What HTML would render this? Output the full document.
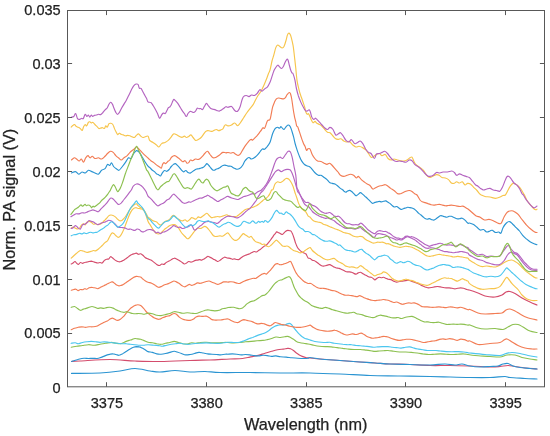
<!DOCTYPE html>
<html><head><meta charset="utf-8"><title>Norm. PA signal vs Wavelength</title>
<style>
html,body{margin:0;padding:0;background:#fff;}
body{width:550px;height:436px;overflow:hidden;}
svg{display:block;}
text{font-family:"Liberation Sans",sans-serif;fill:#222;stroke:#222;stroke-width:0.25px;}
.t{font-size:14.55px;}
.l{font-size:16.3px;}
.c{fill:none;stroke-linejoin:round;stroke-linecap:round;stroke-width:1.15;}
</style></head><body>
<svg width="550" height="436" viewBox="0 0 550 436">
<rect width="550" height="436" fill="#fff"/>
<g class="c">
<path stroke="#2a94d2" d="M71.5,373.4C76.2,373.3 91.9,373.4 100.0,373.0C108.1,372.6 114.2,371.8 120.0,371.0C125.8,370.2 130.0,368.5 135.0,368.5C140.0,368.5 145.8,370.4 150.0,371.0C154.2,371.6 155.8,372.1 160.0,372.0C164.2,371.9 170.0,370.5 175.0,370.5C180.0,370.5 185.0,371.8 190.0,372.0C195.0,372.2 200.0,371.4 205.0,371.5C210.0,371.6 212.5,372.3 220.0,372.5C227.5,372.7 240.0,372.4 250.0,372.5C260.0,372.6 270.0,372.9 280.0,373.0C290.0,373.1 300.0,372.8 310.0,373.0C320.0,373.2 330.0,373.6 340.0,374.0C350.0,374.4 360.0,375.2 370.0,375.5C380.0,375.8 390.0,375.8 400.0,376.0C410.0,376.2 421.7,376.3 430.0,376.5C438.3,376.7 443.3,376.8 450.0,377.0C456.7,377.2 463.3,377.4 470.0,377.5C476.7,377.6 484.2,377.7 490.0,377.5C495.8,377.3 501.7,376.5 505.0,376.5C508.3,376.5 506.7,377.2 510.0,377.5C513.3,377.8 520.5,378.2 525.0,378.5C529.5,378.8 535.0,378.9 537.0,379.0"/>
<path stroke="#d44c6c" d="M71.5,361.5C72.9,361.4 73.6,361.3 80.0,361.0C86.4,360.7 100.8,359.5 110.0,359.5C119.2,359.5 126.7,360.7 135.0,361.0C143.3,361.3 150.8,361.6 160.0,361.5C169.2,361.4 181.7,360.8 190.0,360.5C198.3,360.2 203.3,360.2 210.0,360.0C216.7,359.8 224.6,359.2 230.0,359.0C235.4,358.8 239.2,358.8 242.5,358.5C245.8,358.2 247.4,357.6 249.8,357.1C252.2,356.6 254.7,356.2 257.1,355.6C259.5,355.0 262.0,354.2 264.4,353.5C266.8,352.8 269.4,351.9 271.6,351.3C273.8,350.7 275.6,350.2 277.5,349.8C279.4,349.4 281.6,349.3 283.3,349.1C285.0,348.9 286.4,348.5 287.6,348.4C288.8,348.3 289.5,348.3 290.5,348.7C291.5,349.1 292.5,349.8 293.5,350.5C294.5,351.2 295.4,352.3 296.4,353.0C297.4,353.7 298.3,354.3 299.3,354.9C300.3,355.5 301.0,355.9 302.2,356.4C303.4,356.9 305.2,357.5 306.5,357.8C307.8,358.1 307.8,357.8 310.0,358.0C312.2,358.2 315.0,358.6 320.0,359.0C325.0,359.4 333.3,360.0 340.0,360.5C346.7,361.0 354.2,361.6 360.0,362.0C365.8,362.4 370.0,362.7 375.0,363.0C380.0,363.3 384.2,363.8 390.0,364.0C395.8,364.2 403.3,364.2 410.0,364.5C416.7,364.8 423.3,365.3 430.0,365.5C436.7,365.7 443.3,365.4 450.0,365.5C456.7,365.6 463.3,365.8 470.0,366.0C476.7,366.2 485.0,366.9 490.0,367.0C495.0,367.1 497.0,366.8 500.0,366.5C503.0,366.2 505.5,365.5 508.0,365.5C510.5,365.5 512.2,366.1 515.0,366.5C517.8,366.9 521.3,367.6 525.0,368.0C528.7,368.4 535.0,368.8 537.0,369.0"/>
<path stroke="#2a94d2" d="M71.5,361.5C72.8,361.1 77.5,359.5 79.6,359.0C81.7,358.5 82.5,358.4 84.0,358.3C85.5,358.2 87.0,358.5 88.4,358.5C89.9,358.5 91.2,358.3 92.7,358.3C94.2,358.3 95.9,358.6 97.1,358.5C98.3,358.4 98.9,358.2 100.0,357.8C101.1,357.4 102.4,356.9 103.6,356.4C104.8,355.9 106.2,355.3 107.3,354.9C108.4,354.5 109.2,354.4 110.2,354.2C111.2,354.0 112.1,353.8 113.1,353.9C114.1,353.9 115.0,354.3 116.0,354.5C117.0,354.7 117.9,355.4 118.9,355.3C119.9,355.2 120.8,354.7 121.8,354.2C122.8,353.7 123.7,353.0 124.7,352.4C125.7,351.8 126.6,351.1 127.6,350.5C128.6,349.9 129.5,349.2 130.5,348.7C131.5,348.1 132.5,347.5 133.5,347.2C134.5,346.9 135.4,346.7 136.4,346.6C137.4,346.6 138.3,346.6 139.3,346.9C140.3,347.1 141.2,347.6 142.2,348.1C143.2,348.6 144.1,349.2 145.1,349.8C146.1,350.4 146.8,351.2 148.0,351.6C149.2,352.0 151.0,352.0 152.4,352.4C153.8,352.8 155.2,353.6 156.7,353.9C158.1,354.2 159.6,354.3 161.1,354.2C162.6,354.1 164.1,353.8 165.5,353.5C166.9,353.2 168.4,352.8 169.8,352.4C171.2,352.0 173.0,351.4 174.2,351.3C175.4,351.2 175.9,351.6 177.1,352.0C178.3,352.4 180.1,353.0 181.5,353.5C182.9,354.0 184.4,354.7 185.8,354.9C187.2,355.1 188.8,354.7 190.2,354.5C191.6,354.3 193.1,353.9 194.5,353.5C195.9,353.1 197.4,352.5 198.9,352.4C200.4,352.3 201.9,352.8 203.3,353.0C204.8,353.2 206.2,353.7 207.6,353.9C209.0,354.1 210.5,354.1 212.0,354.2C213.5,354.3 215.0,354.4 216.4,354.5C217.8,354.6 219.2,354.9 220.7,354.9C222.1,354.8 223.9,354.3 225.1,354.2C226.3,354.1 226.8,354.2 228.0,354.2C229.2,354.1 231.0,353.9 232.4,353.9C233.8,353.9 235.2,354.0 236.7,354.2C238.1,354.4 239.6,354.8 241.1,354.9C242.6,354.9 244.1,354.5 245.5,354.5C246.9,354.5 248.4,354.7 249.8,354.9C251.2,355.1 252.8,355.4 254.2,355.6C255.6,355.8 257.1,355.9 258.5,355.9C259.9,355.8 261.4,355.4 262.9,355.3C264.4,355.2 265.9,355.4 267.3,355.6C268.8,355.8 270.2,356.3 271.6,356.4C273.1,356.4 274.5,355.8 276.0,355.9C277.5,356.0 278.7,356.6 280.4,356.8C282.1,357.0 284.3,356.9 286.2,357.1C288.1,357.3 290.1,357.6 292.0,357.8C293.9,358.0 295.9,358.2 297.8,358.3C299.7,358.4 301.9,358.5 303.6,358.5C305.3,358.5 306.9,358.5 308.0,358.3C309.1,358.1 308.0,357.4 310.0,357.5C312.0,357.6 315.0,358.5 320.0,359.0C325.0,359.5 333.3,360.0 340.0,360.5C346.7,361.0 354.2,361.6 360.0,362.0C365.8,362.4 370.0,362.7 375.0,363.0C380.0,363.3 384.2,363.8 390.0,364.0C395.8,364.2 403.3,364.3 410.0,364.5C416.7,364.7 424.2,365.1 430.0,365.0C435.8,364.9 440.8,364.0 445.0,364.0C449.2,364.0 452.2,365.0 455.0,365.0C457.8,365.0 459.5,363.8 462.0,364.0C464.5,364.2 467.0,365.5 470.0,366.0C473.0,366.5 476.7,366.9 480.0,367.0C483.3,367.1 487.0,366.7 490.0,366.5C493.0,366.3 495.8,366.4 498.0,366.0C500.2,365.6 501.3,364.4 503.0,364.0C504.7,363.6 506.3,363.2 508.0,363.5C509.7,363.8 511.0,365.3 513.0,366.0C515.0,366.7 517.2,367.1 520.0,367.5C522.8,367.9 527.2,368.2 530.0,368.5C532.8,368.8 535.8,368.9 537.0,369.0"/>
<path stroke="#8cc050" d="M71.2,347.2C72.1,347.0 74.8,346.5 76.7,346.2C78.6,345.9 80.5,345.8 82.5,345.5C84.5,345.2 86.5,344.8 88.4,344.7C90.4,344.6 92.3,345.3 94.2,345.2C96.1,345.1 98.1,344.6 100.0,344.3C101.9,344.0 103.9,343.6 105.8,343.3C107.7,343.0 109.9,342.3 111.6,342.3C113.3,342.3 114.5,343.1 116.0,343.3C117.5,343.5 119.2,343.8 120.4,343.7C121.6,343.6 122.3,343.2 123.3,342.8C124.3,342.4 125.2,341.8 126.2,341.4C127.2,341.0 128.1,340.7 129.1,340.4C130.1,340.1 131.0,339.9 132.0,339.6C133.0,339.3 133.9,338.6 134.9,338.5C135.9,338.4 136.8,338.8 137.8,338.9C138.8,339.0 139.7,339.1 140.7,339.3C141.7,339.6 142.4,339.9 143.6,340.4C144.8,340.9 146.5,341.9 148.0,342.3C149.5,342.7 151.0,342.6 152.4,342.8C153.8,343.0 155.2,343.4 156.7,343.7C158.1,343.9 159.6,344.4 161.1,344.3C162.6,344.2 164.1,343.6 165.5,343.3C166.9,343.0 168.4,342.8 169.8,342.5C171.2,342.2 172.8,341.4 174.2,341.4C175.6,341.4 177.1,342.1 178.5,342.5C179.9,342.9 181.4,343.4 182.9,343.7C184.4,343.9 185.9,344.1 187.3,344.0C188.8,343.9 190.2,342.9 191.6,342.8C193.0,342.7 194.5,343.4 196.0,343.3C197.5,343.2 198.7,342.7 200.4,342.5C202.1,342.3 204.3,342.2 206.2,342.3C208.1,342.4 210.1,342.7 212.0,342.8C213.9,342.9 215.9,342.9 217.8,342.8C219.7,342.8 221.9,342.6 223.6,342.5C225.3,342.4 226.3,342.4 228.0,342.5C229.7,342.6 231.9,342.8 233.8,342.8C235.7,342.8 237.7,342.7 239.6,342.5C241.5,342.3 243.6,342.0 245.5,341.8C247.4,341.6 249.4,341.6 251.3,341.4C253.2,341.2 255.2,341.0 257.1,340.8C259.0,340.6 261.2,340.6 262.9,340.4C264.6,340.2 265.9,339.9 267.3,339.6C268.8,339.3 270.2,338.9 271.6,338.5C273.1,338.1 274.5,337.2 276.0,337.0C277.5,336.8 278.9,337.6 280.4,337.5C281.8,337.4 283.5,336.9 284.7,336.7C285.9,336.5 286.6,336.3 287.6,336.4C288.6,336.5 289.5,337.0 290.5,337.5C291.5,338.0 292.5,338.7 293.5,339.3C294.5,339.9 295.4,340.9 296.4,341.4C297.4,341.9 298.1,342.2 299.3,342.5C300.5,342.8 302.2,343.1 303.6,343.3C305.1,343.6 306.3,343.7 308.0,344.0C309.7,344.3 311.9,344.8 313.8,345.2C315.7,345.6 317.7,346.0 319.6,346.2C321.6,346.4 323.6,346.5 325.5,346.6C327.4,346.7 329.4,346.7 331.3,346.9C333.2,347.1 335.2,347.4 337.1,347.6C339.0,347.9 341.0,348.1 342.9,348.4C344.8,348.6 346.8,348.9 348.7,349.1C350.6,349.3 352.6,349.4 354.5,349.5C356.4,349.6 358.4,349.4 360.4,349.5C362.3,349.6 364.3,349.9 366.2,350.1C368.1,350.4 370.6,350.8 372.0,351.0C373.4,351.2 373.7,351.3 374.9,351.3C376.1,351.3 377.9,351.1 379.3,351.0C380.8,350.9 382.2,350.8 383.6,350.7C385.1,350.6 386.3,350.4 388.0,350.5C389.7,350.6 391.9,351.1 393.8,351.3C395.7,351.6 397.7,351.9 399.6,352.0C401.6,352.1 403.6,351.9 405.5,352.0C407.4,352.1 409.4,352.2 411.3,352.4C413.2,352.6 415.2,352.8 417.1,353.0C419.0,353.2 421.0,353.6 422.9,353.9C424.8,354.1 426.8,354.4 428.7,354.5C430.6,354.6 432.6,354.3 434.5,354.2C436.4,354.1 438.4,353.9 440.4,353.9C442.3,353.9 444.3,354.1 446.2,354.2C448.1,354.3 450.1,354.5 452.0,354.5C453.9,354.5 455.9,354.3 457.8,354.2C459.7,354.1 461.9,353.8 463.6,353.9C465.3,353.9 466.1,354.2 468.0,354.5C469.9,354.8 471.3,355.2 475.0,355.5C478.7,355.8 485.8,356.2 490.0,356.5C494.2,356.8 497.2,357.2 500.0,357.0C502.8,356.8 504.5,355.3 507.0,355.0C509.5,354.7 512.5,354.6 515.0,355.0C517.5,355.4 519.5,356.8 522.0,357.5C524.5,358.2 527.5,358.6 530.0,359.0C532.5,359.4 535.8,359.8 537.0,360.0"/>
<path stroke="#4cc6ef" d="M71.2,343.3C71.9,343.2 74.1,342.7 75.3,342.8C76.5,342.9 77.0,343.8 78.2,343.7C79.4,343.6 81.0,342.8 82.5,342.5C84.0,342.2 85.4,342.0 86.9,341.8C88.4,341.6 89.8,341.4 91.3,341.4C92.8,341.4 94.1,341.6 95.6,341.8C97.0,342.0 98.5,342.3 100.0,342.3C101.5,342.3 103.0,341.8 104.4,341.8C105.9,341.8 107.2,342.1 108.7,342.3C110.2,342.5 111.6,342.6 113.1,342.8C114.6,343.0 116.0,343.2 117.5,343.3C119.0,343.4 120.3,343.6 121.8,343.7C123.2,343.8 124.8,343.6 126.2,343.7C127.7,343.8 129.1,344.1 130.5,344.3C131.9,344.5 133.4,344.6 134.9,344.7C136.4,344.8 137.9,345.1 139.3,345.2C140.8,345.3 142.2,345.3 143.6,345.2C145.0,345.1 146.3,344.7 148.0,344.7C149.7,344.7 151.9,345.0 153.8,345.2C155.7,345.4 158.2,345.5 159.6,345.7C161.0,345.9 161.3,346.3 162.5,346.2C163.7,346.1 165.4,345.5 166.9,345.2C168.4,344.9 169.9,344.6 171.3,344.3C172.8,344.1 174.2,343.9 175.6,343.7C177.0,343.5 178.5,343.2 180.0,343.3C181.5,343.4 183.0,343.8 184.4,344.0C185.8,344.2 187.2,344.4 188.7,344.3C190.1,344.2 191.4,343.9 193.1,343.7C194.8,343.5 196.7,343.4 198.9,343.3C201.1,343.2 203.8,342.8 206.2,342.8C208.6,342.8 211.1,343.2 213.5,343.3C215.9,343.4 218.3,343.5 220.7,343.3C223.1,343.1 225.8,342.4 228.0,342.3C230.2,342.2 231.9,342.5 233.8,342.5C235.7,342.5 237.9,342.6 239.6,342.3C241.3,342.0 242.5,341.4 244.0,340.8C245.5,340.2 247.0,339.4 248.4,338.9C249.8,338.3 251.2,338.1 252.7,337.5C254.1,336.9 255.6,336.2 257.1,335.6C258.6,335.0 260.1,334.6 261.5,334.1C262.9,333.6 264.6,333.0 265.8,332.4C267.0,331.8 267.7,331.3 268.7,330.6C269.7,329.9 270.6,329.0 271.6,328.3C272.6,327.6 273.5,327.0 274.5,326.5C275.5,326.0 276.5,325.7 277.5,325.4C278.5,325.1 279.4,324.9 280.4,324.8C281.4,324.8 282.3,325.2 283.3,325.1C284.3,325.0 285.2,324.7 286.2,324.4C287.2,324.1 288.2,323.3 289.1,323.3C290.0,323.3 290.6,323.7 291.3,324.4C292.0,325.1 292.6,326.2 293.5,327.3C294.4,328.4 295.4,329.8 296.4,330.9C297.4,332.0 298.3,333.1 299.3,334.1C300.3,335.1 301.2,336.0 302.2,336.7C303.2,337.4 304.1,338.1 305.1,338.5C306.1,338.9 306.8,338.9 308.0,339.3C309.2,339.7 310.9,340.4 312.4,340.8C313.8,341.2 315.2,341.6 316.7,341.8C318.1,342.1 319.6,342.2 321.1,342.3C322.6,342.4 324.1,342.5 325.5,342.5C326.9,342.5 328.4,342.2 329.8,342.3C331.2,342.4 332.8,343.1 334.2,343.3C335.6,343.5 337.1,343.5 338.5,343.7C339.9,343.9 341.4,344.1 342.9,344.3C344.4,344.5 345.9,344.6 347.3,344.7C348.8,344.8 350.2,344.6 351.6,344.7C353.1,344.8 354.5,345.3 356.0,345.5C357.5,345.7 358.9,345.6 360.4,345.7C361.8,345.8 363.2,346.0 364.7,346.2C366.1,346.4 367.6,346.4 369.1,346.6C370.6,346.8 372.1,347.1 373.5,347.2C374.9,347.2 376.4,347.0 377.8,346.9C379.2,346.8 380.5,346.7 382.2,346.6C383.9,346.6 386.3,346.5 388.0,346.6C389.7,346.7 390.9,347.0 392.4,347.2C393.8,347.4 395.2,347.5 396.7,347.6C398.1,347.8 399.6,348.2 401.1,348.1C402.6,348.0 404.1,347.4 405.5,347.2C406.9,347.0 408.4,346.8 409.8,346.9C411.2,347.0 412.8,347.7 414.2,348.1C415.6,348.5 417.1,348.8 418.5,349.1C419.9,349.4 421.4,349.6 422.9,349.8C424.4,350.0 425.9,350.4 427.3,350.5C428.8,350.6 430.2,350.5 431.6,350.5C433.1,350.5 434.5,350.4 436.0,350.5C437.5,350.6 438.7,350.8 440.4,351.0C442.1,351.2 444.3,351.5 446.2,351.6C448.1,351.7 450.1,351.7 452.0,351.7C453.9,351.7 455.9,351.6 457.8,351.6C459.7,351.7 461.9,351.8 463.6,352.0C465.3,352.2 466.9,352.5 468.0,352.7C469.1,352.9 467.2,352.7 470.0,353.0C472.8,353.3 480.0,354.1 485.0,354.5C490.0,354.9 496.5,355.7 500.0,355.5C503.5,355.3 504.0,354.0 506.0,353.5C508.0,353.0 509.7,352.5 512.0,352.5C514.3,352.5 517.3,353.0 520.0,353.5C522.7,354.0 525.2,354.9 528.0,355.5C530.8,356.1 535.5,356.8 537.0,357.0"/>
<path stroke="#f27c54" d="M71.2,329.7C71.8,329.5 73.3,328.7 74.5,328.3C75.7,327.9 77.0,327.6 78.2,327.3C79.4,327.1 80.6,326.8 81.8,326.8C83.0,326.8 84.3,327.3 85.5,327.3C86.7,327.3 87.9,326.9 89.1,326.8C90.3,326.7 91.5,326.9 92.7,326.8C93.9,326.7 95.2,326.7 96.4,326.3C97.6,325.9 98.8,325.0 100.0,324.4C101.2,323.8 102.4,323.1 103.6,322.5C104.8,321.9 106.2,321.6 107.3,321.0C108.4,320.4 109.3,319.5 110.2,319.0C111.1,318.5 111.7,318.1 112.4,318.1C113.1,318.1 113.7,318.6 114.5,319.0C115.3,319.4 116.5,320.3 117.5,320.4C118.5,320.4 119.4,319.9 120.4,319.3C121.4,318.7 122.3,317.7 123.3,316.7C124.3,315.7 125.2,314.3 126.2,313.2C127.2,312.1 128.1,310.8 129.1,309.8C130.1,308.8 131.0,308.0 132.0,307.3C133.0,306.6 133.9,305.9 134.9,305.5C135.9,305.1 136.8,304.7 137.8,304.7C138.8,304.7 139.7,304.9 140.7,305.5C141.7,306.1 142.6,307.3 143.6,308.4C144.6,309.5 145.8,311.2 146.5,312.0C147.2,312.8 147.3,312.6 148.0,313.2C148.7,313.8 149.8,314.8 150.9,315.6C152.0,316.4 153.2,317.5 154.5,318.1C155.8,318.7 157.6,319.4 158.9,319.3C160.2,319.2 161.3,318.3 162.5,317.8C163.7,317.3 165.0,316.8 166.2,316.4C167.4,316.0 168.8,316.0 169.8,315.6C170.8,315.2 171.3,314.6 172.0,314.2C172.7,313.8 173.5,313.5 174.2,313.5C174.9,313.5 175.6,313.6 176.4,314.2C177.2,314.8 178.2,316.2 179.3,317.1C180.4,318.0 181.7,318.8 182.9,319.3C184.1,319.8 185.3,319.9 186.5,320.1C187.7,320.3 189.1,320.5 190.2,320.4C191.3,320.3 192.1,319.9 193.1,319.3C194.1,318.8 195.0,317.6 196.0,317.1C197.0,316.6 197.8,316.2 198.9,316.1C200.0,316.0 201.3,316.4 202.5,316.4C203.7,316.4 205.1,315.9 206.2,316.1C207.3,316.3 208.1,316.9 209.1,317.5C210.1,318.1 211.0,319.2 212.0,319.6C213.0,320.0 213.9,320.0 214.9,320.1C215.9,320.2 216.8,320.0 217.8,320.0C218.8,320.0 219.6,320.1 220.7,320.0C221.8,319.9 223.2,319.5 224.4,319.3C225.6,319.1 226.8,318.8 228.0,319.0C229.2,319.2 230.4,320.2 231.6,320.7C232.8,321.2 234.2,321.9 235.3,322.2C236.4,322.5 237.2,322.8 238.2,322.5C239.2,322.2 240.1,321.2 241.1,320.7C242.1,320.2 243.0,319.7 244.0,319.6C245.0,319.6 245.9,320.2 246.9,320.4C247.9,320.6 248.8,320.8 249.8,321.0C250.8,321.2 251.7,321.5 252.7,321.9C253.7,322.3 254.6,323.0 255.6,323.3C256.6,323.6 257.5,323.9 258.5,323.9C259.5,323.9 260.5,323.3 261.5,323.3C262.5,323.3 263.4,323.6 264.4,323.9C265.4,324.2 266.3,324.8 267.3,325.1C268.3,325.4 269.2,326.0 270.2,325.8C271.2,325.6 272.2,324.4 273.1,323.9C274.0,323.3 274.5,322.6 275.3,322.5C276.1,322.4 277.2,323.0 278.2,323.3C279.2,323.6 280.1,324.1 281.1,324.4C282.1,324.6 283.0,324.6 284.0,324.8C285.0,325.0 285.9,325.1 286.9,325.4C287.9,325.6 288.8,326.1 289.8,326.3C290.8,326.5 291.7,326.6 292.7,326.8C293.7,327.0 294.6,327.2 295.6,327.3C296.6,327.4 297.5,327.3 298.5,327.3C299.5,327.3 300.5,327.4 301.5,327.3C302.5,327.2 303.3,327.1 304.4,326.8C305.5,326.6 307.0,326.1 308.0,325.8C309.0,325.5 309.3,324.9 310.2,325.1C311.1,325.4 312.0,326.6 313.1,327.3C314.2,328.0 315.5,328.7 316.7,329.2C317.9,329.7 319.2,329.9 320.4,330.2C321.6,330.5 322.8,330.7 324.0,330.9C325.2,331.1 326.4,331.2 327.6,331.2C328.8,331.2 330.1,331.1 331.3,330.9C332.5,330.7 333.8,330.1 334.9,330.2C336.0,330.2 336.8,330.8 337.8,331.2C338.8,331.6 339.7,332.2 340.7,332.7C341.7,333.2 342.6,333.7 343.6,334.1C344.6,334.5 345.5,334.9 346.5,335.0C347.5,335.1 348.5,334.7 349.5,334.5C350.5,334.3 351.4,333.8 352.4,333.8C353.4,333.8 354.3,334.4 355.3,334.5C356.3,334.6 357.2,334.3 358.2,334.1C359.2,333.9 360.1,333.0 361.1,333.1C362.1,333.2 363.0,333.9 364.0,334.5C365.0,335.1 365.9,335.9 366.9,336.4C367.9,336.9 368.8,337.2 369.8,337.5C370.8,337.8 371.7,338.1 372.7,338.2C373.7,338.3 374.6,338.0 375.6,337.9C376.6,337.8 377.5,337.7 378.5,337.5C379.5,337.3 380.5,336.9 381.5,336.7C382.5,336.5 383.3,336.3 384.4,336.4C385.5,336.4 386.8,336.6 388.0,337.0C389.2,337.4 390.4,338.1 391.6,338.5C392.8,338.9 394.1,339.3 395.3,339.6C396.5,339.9 397.7,340.3 398.9,340.4C400.1,340.4 401.3,340.1 402.5,339.9C403.7,339.7 405.0,339.4 406.2,339.3C407.4,339.2 408.6,339.2 409.8,339.3C411.0,339.4 412.3,339.6 413.5,339.9C414.7,340.1 415.9,340.5 417.1,340.8C418.3,341.1 419.5,341.5 420.7,341.8C421.9,342.1 423.2,342.5 424.4,342.5C425.6,342.5 426.8,342.0 428.0,341.8C429.2,341.6 430.4,341.3 431.6,341.1C432.8,340.9 434.1,341.1 435.3,340.8C436.5,340.6 437.7,339.9 438.9,339.6C440.1,339.3 441.3,338.9 442.5,338.9C443.7,338.8 445.0,339.4 446.2,339.3C447.4,339.2 448.6,338.6 449.8,338.6C451.0,338.6 452.3,339.0 453.5,339.3C454.7,339.6 455.9,340.4 457.1,340.4C458.3,340.4 459.5,339.2 460.7,339.1C461.9,339.0 463.2,339.3 464.4,339.6C465.6,339.9 467.1,340.9 468.0,341.1C468.9,341.3 468.3,340.4 470.0,341.0C471.7,341.6 474.7,344.1 478.0,344.5C481.3,344.9 486.3,343.8 490.0,343.5C493.7,343.2 497.7,343.1 500.0,342.5C502.3,341.9 502.8,340.6 504.0,340.0C505.2,339.4 505.7,338.7 507.0,339.0C508.3,339.3 510.2,340.9 512.0,342.0C513.8,343.1 515.8,344.5 518.0,345.5C520.2,346.5 522.7,347.4 525.0,348.0C527.3,348.6 530.0,348.8 532.0,349.0C534.0,349.2 536.2,349.0 537.0,349.0"/>
<path stroke="#8cc050" d="M71.2,307.3C71.8,307.2 73.5,306.3 74.5,306.5C75.5,306.7 76.5,307.8 77.5,308.4C78.5,309.0 79.4,310.2 80.4,310.3C81.4,310.4 82.3,309.4 83.3,309.1C84.3,308.8 85.2,308.7 86.2,308.4C87.2,308.1 88.1,307.6 89.1,307.3C90.1,307.0 91.0,306.5 92.0,306.5C93.0,306.5 93.9,307.0 94.9,307.3C95.9,307.6 96.8,308.3 97.8,308.4C98.8,308.5 99.7,307.9 100.7,307.9C101.7,307.9 102.6,308.4 103.6,308.4C104.6,308.3 105.5,307.8 106.5,307.6C107.5,307.4 108.5,307.2 109.5,307.3C110.5,307.4 111.4,307.5 112.4,307.9C113.4,308.2 114.3,308.9 115.3,309.4C116.3,309.9 117.2,310.4 118.2,310.8C119.2,311.2 120.1,311.4 121.1,311.7C122.1,311.9 123.0,312.3 124.0,312.3C125.0,312.3 125.9,311.6 126.9,311.7C127.9,311.8 128.8,312.4 129.8,312.7C130.8,313.0 131.7,313.3 132.7,313.5C133.7,313.7 134.6,313.7 135.6,313.7C136.6,313.7 137.5,313.5 138.5,313.5C139.5,313.5 140.5,313.6 141.5,313.7C142.5,313.8 143.3,314.3 144.4,314.2C145.5,314.1 146.7,313.3 148.0,313.2C149.3,313.1 151.0,313.4 152.4,313.7C153.8,314.0 155.2,314.9 156.7,315.2C158.1,315.5 159.6,315.7 161.1,315.6C162.6,315.5 164.1,315.0 165.5,314.6C166.9,314.2 168.4,314.0 169.8,313.5C171.2,313.0 172.8,311.9 174.2,311.7C175.6,311.5 177.1,312.1 178.5,312.3C179.9,312.6 181.4,313.1 182.9,313.2C184.4,313.3 185.9,312.7 187.3,312.7C188.8,312.7 190.2,313.1 191.6,313.2C193.0,313.3 194.5,313.7 196.0,313.5C197.5,313.3 199.0,312.5 200.4,312.0C201.8,311.5 203.5,310.9 204.7,310.5C205.9,310.1 206.6,309.8 207.6,309.8C208.6,309.8 209.3,310.1 210.5,310.3C211.7,310.5 213.4,310.8 214.9,310.8C216.4,310.8 218.1,310.6 219.3,310.3C220.5,310.0 221.2,309.1 222.2,308.8C223.2,308.5 224.1,308.6 225.1,308.4C226.1,308.2 227.0,307.7 228.0,307.5C229.0,307.3 229.9,307.3 230.9,307.3C231.9,307.3 232.8,307.2 233.8,307.3C234.8,307.4 235.7,307.9 236.7,308.1C237.7,308.3 238.6,308.7 239.6,308.7C240.6,308.7 241.7,308.4 242.5,308.0C243.3,307.6 244.0,306.8 244.7,306.1C245.4,305.4 246.2,304.5 246.9,303.9C247.6,303.3 248.4,302.9 249.1,302.5C249.8,302.1 250.6,301.6 251.3,301.4C252.0,301.1 252.8,301.2 253.5,301.0C254.2,300.8 254.9,300.4 255.6,300.0C256.3,299.6 257.1,299.0 257.8,298.5C258.5,298.0 259.3,297.6 260.0,297.1C260.7,296.6 261.5,295.9 262.2,295.6C262.9,295.3 263.7,295.5 264.4,295.2C265.1,294.9 265.8,294.3 266.5,293.7C267.2,293.1 268.0,292.4 268.7,291.5C269.4,290.6 270.2,289.6 270.9,288.6C271.6,287.6 272.4,286.6 273.1,285.7C273.8,284.8 274.6,283.8 275.3,283.1C276.0,282.4 276.8,281.9 277.5,281.4C278.2,280.9 278.9,280.4 279.6,280.2C280.3,279.9 281.1,280.1 281.8,279.9C282.5,279.6 283.3,279.1 284.0,278.7C284.7,278.3 285.5,278.0 286.2,277.7C286.9,277.4 287.8,276.8 288.4,276.7C289.0,276.6 289.3,276.6 289.8,277.0C290.3,277.4 290.8,278.2 291.3,279.2C291.8,280.2 292.2,281.8 292.7,283.1C293.2,284.4 293.6,285.8 294.2,287.2C294.8,288.6 295.7,290.2 296.4,291.5C297.1,292.8 297.8,294.2 298.5,295.2C299.2,296.2 300.0,297.0 300.7,297.7C301.4,298.4 302.2,298.9 302.9,299.5C303.6,300.1 304.2,300.5 305.1,301.0C306.0,301.5 306.9,301.8 308.0,302.5C309.1,303.2 310.4,304.8 311.6,305.5C312.8,306.2 314.1,306.5 315.3,306.9C316.5,307.3 317.7,307.6 318.9,307.9C320.1,308.1 321.4,308.5 322.5,308.4C323.6,308.3 324.4,307.3 325.5,307.3C326.6,307.3 327.9,308.0 329.1,308.4C330.3,308.8 331.5,309.4 332.7,309.8C333.9,310.2 335.2,310.5 336.4,310.8C337.6,311.1 338.8,311.4 340.0,311.7C341.2,312.0 342.4,312.4 343.6,312.7C344.8,312.9 346.1,313.2 347.3,313.2C348.5,313.2 349.8,312.8 350.9,312.7C352.0,312.6 352.8,312.1 353.8,312.3C354.8,312.5 355.7,313.4 356.7,313.7C357.7,314.0 358.6,314.0 359.6,314.2C360.6,314.4 361.5,314.6 362.5,314.9C363.5,315.2 364.5,315.8 365.5,316.1C366.5,316.4 367.4,316.5 368.4,316.7C369.4,316.9 370.3,317.4 371.3,317.5C372.3,317.6 373.2,317.7 374.2,317.5C375.2,317.3 376.1,316.5 377.1,316.1C378.1,315.7 379.0,315.3 380.0,315.2C381.0,315.1 381.9,315.5 382.9,315.6C383.9,315.8 384.9,315.9 385.8,316.1C386.7,316.3 387.0,316.4 388.0,316.7C389.0,317.0 390.4,317.6 391.6,317.8C392.8,318.0 394.2,317.9 395.3,317.8C396.4,317.8 397.2,317.4 398.2,317.5C399.2,317.6 400.0,318.5 401.1,318.5C402.2,318.5 403.5,317.8 404.7,317.5C405.9,317.2 407.2,316.9 408.4,316.7C409.6,316.5 410.9,316.3 412.0,316.4C413.1,316.5 413.9,317.1 414.9,317.5C415.9,317.9 416.8,318.5 417.8,319.0C418.8,319.5 419.6,319.9 420.7,320.4C421.8,320.9 423.2,321.6 424.4,321.9C425.6,322.1 426.8,321.8 428.0,321.9C429.2,322.0 430.4,322.4 431.6,322.5C432.8,322.6 434.1,322.6 435.3,322.5C436.5,322.4 437.7,322.1 438.9,322.2C440.1,322.3 441.3,322.9 442.5,323.3C443.7,323.7 445.0,324.2 446.2,324.4C447.4,324.6 448.6,324.4 449.8,324.4C451.0,324.3 452.3,324.1 453.5,324.1C454.7,324.1 455.9,324.4 457.1,324.4C458.3,324.4 459.5,324.1 460.7,324.1C461.9,324.1 463.2,324.2 464.4,324.4C465.6,324.6 467.1,325.0 468.0,325.1C468.9,325.2 468.3,324.5 470.0,325.0C471.7,325.5 475.5,327.3 478.0,328.0C480.5,328.7 482.2,328.9 485.0,329.0C487.8,329.1 492.0,328.4 495.0,328.5C498.0,328.6 500.8,329.8 503.0,329.5C505.2,329.2 506.3,327.8 508.0,327.0C509.7,326.2 511.3,324.9 513.0,324.5C514.7,324.1 516.3,324.1 518.0,324.5C519.7,324.9 521.0,325.9 523.0,327.0C525.0,328.1 527.7,330.1 530.0,331.0C532.3,331.9 535.8,332.2 537.0,332.5"/>
<path stroke="#f27c54" d="M71.2,290.2C71.6,290.1 73.0,289.7 73.8,289.5C74.6,289.3 75.3,289.0 76.0,289.2C76.7,289.4 77.5,290.6 78.2,290.6C78.9,290.7 79.7,289.6 80.4,289.5C81.1,289.4 81.8,289.8 82.5,289.7C83.2,289.6 84.0,288.8 84.7,288.7C85.4,288.6 86.2,289.4 86.9,289.2C87.6,289.0 88.4,288.0 89.1,287.7C89.8,287.4 90.6,287.3 91.3,287.3C92.0,287.3 92.8,287.6 93.5,287.7C94.2,287.8 94.9,287.8 95.6,288.0C96.3,288.2 97.1,288.8 97.8,288.7C98.5,288.6 99.3,288.1 100.0,287.7C100.7,287.3 101.5,286.9 102.2,286.5C102.9,286.1 103.7,285.8 104.4,285.4C105.1,285.0 105.8,284.8 106.5,284.4C107.2,284.0 108.0,283.7 108.7,283.3C109.4,282.9 110.3,282.4 110.9,282.2C111.5,282.0 111.8,281.7 112.4,281.9C113.0,282.1 113.8,282.8 114.5,283.3C115.2,283.8 116.0,284.7 116.7,285.1C117.4,285.5 118.2,285.8 118.9,285.8C119.6,285.9 120.4,285.6 121.1,285.4C121.8,285.2 122.6,284.8 123.3,284.4C124.0,284.0 124.8,283.4 125.5,282.9C126.2,282.4 126.9,282.0 127.6,281.5C128.3,281.0 129.1,280.5 129.8,280.0C130.5,279.5 131.3,279.0 132.0,278.5C132.7,278.0 133.5,277.5 134.2,277.1C134.9,276.8 135.7,276.5 136.4,276.4C137.1,276.3 137.8,276.6 138.5,276.7C139.2,276.8 140.0,276.7 140.7,277.1C141.4,277.5 142.2,278.4 142.9,279.0C143.6,279.6 144.2,280.2 145.1,280.7C145.9,281.2 146.9,281.8 148.0,282.2C149.1,282.6 150.4,282.8 151.6,283.3C152.8,283.8 154.2,284.7 155.3,285.4C156.5,286.1 157.4,287.1 158.5,287.3C159.6,287.5 160.8,286.7 161.8,286.3C162.8,285.9 163.6,285.2 164.7,284.8C165.8,284.4 167.3,284.0 168.4,283.6C169.5,283.2 170.4,282.6 171.3,282.2C172.2,281.8 173.1,281.1 173.9,281.0C174.8,280.9 175.5,281.5 176.4,281.9C177.3,282.3 178.3,283.0 179.3,283.6C180.3,284.2 181.3,285.3 182.2,285.8C183.1,286.3 183.8,286.9 184.7,286.8C185.5,286.7 186.5,285.8 187.3,285.4C188.1,285.0 188.8,284.4 189.5,284.4C190.2,284.4 190.8,285.4 191.6,285.4C192.4,285.4 193.5,284.8 194.5,284.4C195.5,284.0 196.5,283.1 197.5,282.9C198.5,282.7 199.4,283.4 200.4,283.3C201.4,283.2 202.3,282.8 203.3,282.5C204.3,282.2 205.2,281.8 206.2,281.5C207.2,281.2 208.1,280.9 209.1,281.0C210.1,281.1 211.0,281.8 212.0,282.2C213.0,282.6 213.9,282.9 214.9,283.3C215.9,283.7 216.8,284.4 217.8,284.4C218.8,284.4 219.7,283.7 220.7,283.3C221.7,282.9 222.6,282.1 223.6,281.9C224.6,281.7 225.8,281.9 226.5,281.9C227.2,281.9 227.3,282.1 228.0,282.1C228.7,282.1 229.9,281.7 230.9,281.7C231.9,281.7 232.8,281.9 233.8,282.1C234.8,282.3 235.7,282.9 236.7,283.1C237.7,283.3 238.6,283.7 239.6,283.5C240.6,283.3 241.5,282.6 242.5,282.1C243.5,281.6 244.5,281.0 245.5,280.6C246.5,280.2 247.4,279.9 248.4,279.6C249.4,279.3 250.5,278.9 251.3,278.7C252.2,278.5 252.8,278.2 253.5,278.2C254.2,278.2 254.9,278.7 255.6,278.5C256.3,278.3 257.1,277.5 257.8,277.0C258.5,276.5 259.3,276.0 260.0,275.5C260.7,275.0 261.5,274.5 262.2,274.1C262.9,273.8 263.7,273.4 264.4,273.4C265.1,273.4 265.8,274.4 266.5,274.1C267.2,273.9 268.0,272.6 268.7,271.9C269.4,271.2 270.2,270.5 270.9,269.7C271.6,268.9 272.4,267.7 273.1,266.8C273.8,265.9 274.6,264.7 275.3,264.2C276.0,263.7 276.8,263.5 277.5,263.6C278.2,263.7 278.9,264.4 279.6,264.6C280.3,264.8 281.1,264.7 281.8,264.6C282.5,264.5 283.3,264.1 284.0,263.9C284.7,263.7 285.5,263.5 286.2,263.2C286.9,262.9 287.7,262.5 288.4,262.2C289.1,261.9 289.8,261.1 290.3,261.3C290.9,261.5 291.2,262.2 291.7,263.2C292.2,264.2 292.9,266.1 293.5,267.5C294.1,268.9 294.9,270.6 295.6,271.9C296.3,273.2 297.1,274.3 297.8,275.3C298.5,276.3 299.3,276.9 300.0,277.7C300.7,278.5 301.5,279.2 302.2,279.9C302.9,280.6 303.7,281.2 304.4,281.7C305.1,282.2 305.9,282.5 306.5,282.8C307.1,283.1 307.3,283.4 308.0,283.5C308.7,283.6 309.9,283.2 310.9,283.5C311.9,283.8 312.8,284.8 313.8,285.4C314.8,286.0 315.7,286.7 316.7,287.2C317.7,287.7 318.6,288.1 319.6,288.3C320.6,288.5 321.5,288.2 322.5,288.3C323.5,288.4 324.5,288.4 325.5,288.6C326.5,288.8 327.4,289.1 328.4,289.4C329.4,289.7 330.3,290.2 331.3,290.4C332.3,290.6 333.2,290.6 334.2,290.8C335.2,291.0 336.1,291.4 337.1,291.8C338.1,292.2 339.0,292.9 340.0,293.3C341.0,293.8 341.9,294.2 342.9,294.5C343.9,294.8 344.8,295.1 345.8,295.2C346.8,295.3 347.7,295.1 348.7,295.2C349.7,295.3 350.6,295.4 351.6,295.6C352.6,295.8 353.5,296.0 354.5,296.2C355.5,296.4 356.6,296.7 357.5,296.6C358.4,296.5 358.9,295.6 359.6,295.6C360.3,295.6 361.1,296.2 361.8,296.6C362.5,297.0 363.3,297.4 364.0,297.7C364.7,298.0 365.3,298.2 366.2,298.5C367.1,298.8 368.1,299.2 369.1,299.5C370.1,299.8 371.0,300.1 372.0,300.3C373.0,300.5 373.9,300.6 374.9,300.6C375.9,300.6 376.8,300.4 377.8,300.3C378.8,300.2 379.7,300.1 380.7,300.0C381.7,299.9 382.6,299.5 383.6,299.5C384.6,299.5 385.8,299.9 386.5,300.0C387.2,300.1 387.3,300.1 388.0,300.3C388.7,300.5 389.9,301.0 390.9,301.4C391.9,301.8 392.8,302.4 393.8,302.5C394.8,302.6 395.7,301.9 396.7,302.0C397.7,302.1 398.6,302.8 399.6,303.2C400.6,303.6 401.5,304.2 402.5,304.3C403.5,304.4 404.5,303.7 405.5,303.5C406.5,303.3 407.4,302.9 408.4,302.9C409.4,302.8 410.3,303.2 411.3,303.2C412.3,303.2 413.2,302.8 414.2,302.9C415.2,303.0 416.1,303.5 417.1,303.9C418.1,304.3 419.0,304.9 420.0,305.4C421.0,305.9 421.7,306.6 422.9,306.8C424.1,307.1 426.0,306.8 427.3,306.9C428.6,307.0 429.7,307.2 430.9,307.3C432.1,307.4 433.2,307.4 434.5,307.3C435.8,307.2 437.6,306.8 438.9,306.8C440.2,306.8 441.3,307.2 442.5,307.3C443.7,307.4 445.0,307.7 446.2,307.6C447.4,307.5 448.6,306.9 449.8,306.9C451.0,306.8 452.3,307.1 453.5,307.3C454.7,307.5 455.9,307.9 457.1,307.9C458.3,307.9 459.5,307.2 460.7,307.3C461.9,307.4 463.2,308.0 464.4,308.4C465.6,308.8 467.1,309.6 468.0,309.8C468.9,310.0 468.3,309.0 470.0,309.5C471.7,310.0 475.5,312.2 478.0,313.0C480.5,313.8 482.2,313.9 485.0,314.0C487.8,314.1 492.2,313.7 495.0,313.5C497.8,313.3 500.2,313.6 502.0,313.0C503.8,312.4 504.7,310.7 506.0,310.0C507.3,309.3 508.5,308.8 510.0,309.0C511.5,309.2 513.3,310.2 515.0,311.0C516.7,311.8 518.0,312.9 520.0,314.0C522.0,315.1 524.2,316.5 527.0,317.5C529.8,318.5 535.3,319.6 537.0,320.0"/>
<path stroke="#d44c6c" d="M71.2,264.0C71.5,263.8 72.5,263.4 73.1,263.0C73.7,262.6 74.4,261.4 75.0,261.5C75.6,261.6 76.1,262.8 76.7,263.3C77.3,263.8 77.9,264.5 78.5,264.4C79.1,264.3 79.7,262.7 80.4,262.5C81.1,262.3 81.8,263.3 82.5,263.3C83.2,263.3 84.0,262.7 84.7,262.5C85.4,262.3 86.2,262.3 86.9,262.1C87.6,261.9 88.4,261.7 89.1,261.5C89.8,261.3 90.6,261.1 91.3,261.1C92.0,261.2 92.8,261.6 93.5,261.8C94.2,262.0 94.9,262.3 95.6,262.5C96.3,262.7 97.1,263.0 97.8,263.0C98.5,263.0 99.3,262.5 100.0,262.5C100.7,262.5 101.5,263.4 102.2,263.0C102.9,262.6 103.7,261.0 104.4,260.4C105.1,259.8 105.8,259.4 106.5,259.2C107.2,258.9 108.0,259.3 108.7,258.9C109.4,258.5 109.9,256.9 110.5,256.7C111.1,256.5 111.7,257.2 112.4,257.7C113.1,258.2 113.8,259.0 114.5,259.6C115.2,260.2 116.0,260.7 116.7,261.1C117.4,261.5 118.2,261.7 118.9,261.8C119.6,261.9 120.4,261.7 121.1,261.5C121.8,261.3 122.6,260.8 123.3,260.4C124.0,260.0 124.8,259.4 125.5,258.9C126.2,258.4 126.9,258.0 127.6,257.5C128.3,257.0 129.1,256.2 129.8,255.7C130.5,255.2 131.3,254.8 132.0,254.5C132.7,254.2 133.5,254.0 134.2,253.8C134.9,253.6 135.7,253.0 136.4,253.1C137.1,253.2 137.8,254.2 138.5,254.3C139.2,254.4 140.0,253.6 140.7,253.8C141.4,254.0 142.2,254.7 142.9,255.3C143.6,255.9 144.2,256.9 145.1,257.5C145.9,258.1 147.0,258.5 148.0,258.9C149.0,259.3 149.9,259.6 150.9,260.1C151.9,260.6 152.8,261.4 153.8,262.1C154.8,262.8 155.7,263.8 156.7,264.4C157.7,265.0 158.8,265.6 159.6,265.5C160.4,265.4 161.1,264.2 161.8,264.0C162.5,263.8 163.3,264.6 164.0,264.4C164.7,264.1 165.3,263.1 166.2,262.5C167.0,261.9 168.1,261.7 169.1,261.1C170.1,260.6 171.2,259.7 172.0,259.2C172.8,258.7 173.5,258.2 174.2,258.2C174.9,258.1 175.6,258.5 176.4,258.9C177.2,259.3 178.3,259.8 179.3,260.4C180.3,261.0 181.3,261.9 182.2,262.5C183.0,263.1 183.7,263.9 184.4,264.0C185.1,264.1 185.8,263.4 186.5,263.0C187.2,262.6 188.0,261.6 188.7,261.5C189.4,261.4 190.2,262.1 190.9,262.1C191.6,262.1 192.4,261.8 193.1,261.5C193.8,261.2 194.6,260.6 195.3,260.4C196.0,260.2 196.8,260.2 197.5,260.1C198.2,260.0 198.9,259.6 199.6,259.6C200.3,259.6 201.1,260.2 201.8,260.1C202.5,260.0 203.3,259.3 204.0,258.9C204.7,258.5 205.5,257.9 206.2,257.5C206.8,257.1 207.3,256.4 207.9,256.3C208.5,256.2 209.1,256.9 209.8,257.2C210.5,257.5 211.3,257.8 212.0,258.2C212.7,258.6 213.5,259.2 214.2,259.6C214.9,260.0 215.8,260.4 216.4,260.7C217.0,261.0 217.2,261.6 217.8,261.5C218.4,261.4 219.3,260.9 220.0,260.4C220.7,259.9 221.5,259.1 222.2,258.6C222.9,258.1 223.7,257.4 224.4,257.2C225.1,257.0 225.9,257.5 226.5,257.7C227.1,257.9 227.4,258.0 228.0,258.1C228.6,258.2 229.5,258.2 230.2,258.4C230.9,258.6 231.7,259.2 232.4,259.3C233.1,259.4 233.8,258.8 234.5,258.8C235.2,258.8 236.0,259.4 236.7,259.5C237.4,259.6 238.2,259.8 238.9,259.5C239.6,259.2 240.4,258.3 241.1,257.8C241.8,257.3 242.6,256.7 243.3,256.3C244.0,255.9 244.8,255.5 245.5,255.2C246.2,254.9 246.9,254.8 247.6,254.5C248.3,254.2 249.1,254.0 249.8,253.7C250.5,253.4 251.3,253.0 252.0,252.6C252.7,252.2 253.5,251.6 254.2,251.5C254.9,251.4 255.7,252.2 256.4,252.0C257.1,251.8 257.8,251.0 258.5,250.5C259.2,250.0 260.0,249.7 260.7,249.1C261.4,248.5 262.2,247.8 262.9,247.2C263.6,246.6 264.5,246.1 265.1,245.7C265.7,245.3 265.9,245.6 266.5,245.0C267.1,244.4 268.0,243.3 268.7,242.4C269.4,241.5 270.2,240.5 270.9,239.5C271.6,238.5 272.4,237.3 273.1,236.3C273.8,235.3 274.7,234.3 275.3,233.6C275.9,232.9 276.2,232.1 276.7,231.9C277.2,231.7 277.6,232.2 278.2,232.5C278.8,232.8 279.7,233.3 280.4,233.6C281.1,233.9 281.9,234.5 282.5,234.4C283.1,234.3 283.5,233.4 284.0,232.9C284.5,232.4 284.9,231.9 285.5,231.5C286.1,231.1 286.9,230.5 287.6,230.4C288.3,230.3 289.2,230.5 289.8,230.7C290.4,230.9 290.8,230.9 291.3,231.5C291.8,232.1 292.2,233.2 292.7,234.4C293.2,235.6 293.7,237.2 294.2,238.7C294.7,240.1 295.1,241.8 295.6,243.1C296.1,244.4 296.6,245.7 297.1,246.7C297.6,247.7 297.9,248.2 298.5,248.9C299.1,249.6 299.8,250.4 300.7,251.1C301.6,251.8 302.7,252.3 303.6,252.8C304.5,253.3 305.3,253.2 306.0,254.0C306.7,254.8 307.3,257.1 308.0,257.8C308.7,258.5 309.5,258.0 310.2,258.4C310.9,258.8 311.7,259.9 312.4,260.3C313.1,260.7 313.8,260.4 314.5,260.7C315.2,261.0 316.0,261.7 316.7,262.2C317.4,262.7 318.2,263.4 318.9,263.9C319.6,264.4 320.4,265.0 321.1,265.4C321.8,265.8 322.6,266.1 323.3,266.1C324.0,266.2 324.8,265.9 325.5,265.7C326.2,265.5 326.9,265.3 327.6,265.1C328.3,264.9 329.1,264.5 329.8,264.6C330.5,264.7 331.3,265.3 332.0,265.7C332.7,266.1 333.5,266.7 334.2,267.1C334.9,267.5 335.7,267.8 336.4,268.0C337.1,268.2 337.8,268.1 338.5,268.3C339.2,268.5 340.0,268.7 340.7,269.0C341.4,269.3 342.2,269.6 342.9,270.0C343.6,270.4 344.4,270.9 345.1,271.2C345.8,271.5 346.6,271.8 347.3,271.9C348.0,272.0 348.8,271.8 349.5,271.9C350.2,272.0 350.9,272.1 351.6,272.3C352.3,272.6 353.1,273.1 353.8,273.4C354.5,273.7 355.3,274.2 356.0,274.1C356.7,274.0 357.5,273.2 358.2,272.9C358.9,272.6 359.7,272.2 360.4,272.3C361.1,272.4 361.8,273.0 362.5,273.4C363.2,273.8 364.0,274.4 364.7,274.8C365.4,275.2 366.2,275.4 366.9,275.8C367.6,276.2 368.4,276.8 369.1,277.0C369.8,277.2 370.6,277.0 371.3,277.3C372.0,277.6 372.9,278.3 373.5,278.7C374.1,279.1 374.3,280.0 374.9,279.9C375.5,279.8 376.4,278.6 377.1,278.2C377.8,277.8 378.6,277.4 379.3,277.3C380.0,277.2 380.8,277.7 381.5,277.7C382.2,277.7 382.9,277.2 383.6,277.3C384.3,277.4 385.1,277.9 385.8,278.2C386.5,278.5 387.1,279.0 388.0,279.2C388.9,279.4 389.9,279.3 390.9,279.6C391.9,279.9 392.8,280.7 393.8,281.1C394.8,281.5 395.7,282.1 396.7,282.1C397.7,282.2 398.6,281.6 399.6,281.4C400.6,281.2 401.5,281.2 402.5,281.1C403.5,281.0 404.5,280.8 405.5,280.6C406.5,280.5 407.4,280.1 408.4,280.2C409.4,280.3 410.3,280.8 411.3,281.1C412.3,281.4 413.2,281.8 414.2,282.1C415.2,282.4 416.1,282.7 417.1,283.1C418.1,283.5 419.0,284.1 420.0,284.6C421.0,285.1 421.9,285.6 422.9,286.0C423.9,286.4 424.8,286.9 425.8,287.2C426.8,287.5 427.7,287.8 428.7,287.9C429.7,287.9 430.6,287.7 431.6,287.5C432.6,287.3 433.5,287.1 434.5,286.9C435.5,286.7 436.5,286.5 437.5,286.5C438.5,286.5 439.4,286.7 440.4,286.9C441.4,287.1 442.3,287.3 443.3,287.5C444.3,287.7 445.2,287.8 446.2,287.9C447.2,288.0 448.1,287.8 449.1,287.9C450.1,288.0 451.0,288.1 452.0,288.3C453.0,288.5 453.9,288.9 454.9,288.9C455.9,288.9 456.8,288.5 457.8,288.3C458.8,288.1 459.7,287.9 460.7,287.9C461.7,287.9 462.6,288.1 463.6,288.3C464.6,288.6 465.8,289.1 466.5,289.4C467.2,289.6 467.5,289.7 468.0,289.8C468.5,289.9 467.6,289.5 469.3,290.0C471.0,290.5 475.4,292.0 478.0,293.0C480.6,294.0 482.2,295.3 485.0,296.0C487.8,296.7 492.2,297.2 495.0,297.0C497.8,296.8 500.2,295.8 502.0,295.0C503.8,294.2 504.7,292.6 506.0,292.0C507.3,291.4 508.5,291.2 510.0,291.5C511.5,291.8 513.0,292.4 515.0,293.5C517.0,294.6 519.5,296.6 522.0,298.0C524.5,299.4 527.5,300.8 530.0,302.0C532.5,303.2 535.8,304.5 537.0,305.0"/>
<path stroke="#f7c54c" d="M71.2,258.2C71.6,257.8 73.0,256.4 73.8,255.7C74.6,255.0 75.3,254.4 76.0,253.8C76.7,253.2 77.5,252.5 78.2,251.9C78.9,251.3 79.7,250.7 80.4,250.5C81.1,250.3 81.8,250.7 82.5,250.9C83.2,251.1 84.0,251.3 84.7,251.6C85.4,251.8 86.2,252.3 86.9,252.4C87.6,252.5 88.4,252.1 89.1,251.9C89.8,251.7 90.6,251.5 91.3,251.3C92.0,251.1 92.8,250.6 93.5,250.5C94.2,250.4 94.9,251.1 95.6,250.9C96.3,250.7 97.1,250.1 97.8,249.5C98.5,248.9 99.3,248.3 100.0,247.6C100.7,246.9 101.5,246.2 102.2,245.5C102.9,244.8 103.7,243.9 104.4,243.2C105.1,242.5 105.9,242.0 106.5,241.5C107.1,241.0 107.2,241.4 108.0,240.0C108.8,238.6 110.6,234.4 111.6,233.3C112.6,232.2 113.1,233.2 113.8,233.6C114.5,234.0 115.3,235.2 116.0,235.8C116.7,236.4 117.5,237.3 118.2,237.3C118.9,237.3 119.7,236.7 120.4,235.8C121.1,235.0 121.8,233.6 122.5,232.2C123.2,230.8 124.0,228.9 124.7,227.1C125.4,225.3 126.2,223.2 126.9,221.3C127.6,219.4 128.4,217.2 129.1,215.5C129.8,213.8 130.6,212.2 131.3,211.1C132.0,209.9 132.8,209.2 133.5,208.6C134.2,208.0 134.9,207.8 135.6,207.7C136.3,207.6 137.0,208.0 137.8,208.2C138.7,208.4 139.8,208.7 140.7,208.9C141.5,209.1 142.2,209.0 142.9,209.6C143.6,210.2 144.2,210.6 145.1,212.5C145.9,214.4 147.2,219.2 148.0,221.3C148.8,223.4 149.5,223.7 150.2,224.9C150.9,226.1 151.7,227.4 152.4,228.5C153.1,229.6 153.8,230.7 154.5,231.5C155.2,232.3 156.0,233.2 156.7,233.6C157.4,234.0 158.2,234.0 158.9,233.9C159.6,233.8 160.4,233.4 161.1,232.9C161.8,232.4 162.6,231.4 163.3,230.7C164.0,230.0 164.8,229.1 165.5,228.5C166.2,227.9 166.9,227.6 167.6,227.1C168.3,226.6 169.1,226.0 169.8,225.6C170.5,225.2 171.3,225.1 172.0,224.9C172.7,224.7 173.5,224.5 174.2,224.6C174.9,224.7 175.7,225.1 176.4,225.6C177.1,226.1 177.8,226.8 178.5,227.8C179.2,228.8 180.0,230.4 180.7,231.5C181.4,232.6 182.2,233.6 182.9,234.4C183.6,235.2 184.4,235.8 185.1,236.5C185.8,237.2 186.6,238.5 187.3,238.7C188.0,238.9 188.8,238.3 189.5,237.7C190.2,237.1 190.9,236.0 191.6,235.1C192.3,234.2 193.1,233.2 193.8,232.2C194.5,231.2 195.3,230.0 196.0,229.3C196.7,228.6 197.5,228.2 198.2,228.1C198.9,228.0 199.7,228.6 200.4,228.5C201.1,228.4 201.8,227.8 202.5,227.5C203.2,227.2 204.0,226.4 204.7,226.4C205.4,226.4 206.2,226.9 206.9,227.5C207.6,228.1 208.4,229.1 209.1,230.0C209.8,230.9 210.6,231.9 211.3,232.9C212.0,233.9 212.8,235.2 213.5,235.8C214.2,236.4 214.9,236.4 215.6,236.5C216.3,236.6 217.1,236.4 217.8,236.3C218.5,236.2 219.3,235.8 220.0,235.8C220.7,235.8 221.5,236.4 222.2,236.3C222.9,236.2 223.7,235.6 224.4,235.1C225.1,234.6 225.9,234.0 226.5,233.6C227.1,233.2 227.4,232.5 228.0,232.9C228.6,233.3 229.5,234.8 230.2,235.8C230.9,236.8 231.7,238.0 232.4,238.7C233.1,239.4 233.8,239.9 234.5,240.2C235.2,240.4 236.0,240.4 236.7,240.2C237.4,239.9 238.2,239.4 238.9,238.7C239.6,238.0 240.4,236.7 241.1,235.8C241.8,235.0 242.7,233.8 243.3,233.6C243.9,233.4 244.1,234.0 244.7,234.4C245.3,234.8 246.2,235.3 246.9,235.8C247.6,236.3 248.4,237.2 249.1,237.3C249.8,237.4 250.6,236.1 251.3,236.5C252.0,236.9 252.8,238.7 253.5,239.5C254.2,240.3 254.9,241.1 255.6,241.6C256.3,242.1 257.1,242.2 257.8,242.4C258.5,242.7 259.3,242.8 260.0,243.1C260.7,243.4 261.5,244.3 262.2,244.5C262.9,244.7 263.7,243.8 264.4,244.1C265.1,244.3 265.8,245.6 266.5,246.0C267.2,246.4 268.0,246.8 268.7,246.7C269.4,246.6 270.2,245.9 270.9,245.3C271.6,244.7 272.4,243.8 273.1,243.1C273.8,242.4 274.7,241.4 275.3,240.9C275.9,240.4 276.2,240.1 276.7,240.2C277.2,240.3 277.6,241.0 278.2,241.6C278.8,242.2 279.7,243.1 280.4,243.8C281.1,244.5 281.8,245.6 282.5,246.0C283.2,246.4 284.0,246.4 284.7,246.4C285.4,246.4 286.2,245.9 286.9,246.0C287.6,246.1 288.4,246.5 289.1,247.0C289.8,247.5 290.6,248.3 291.3,248.9C292.0,249.5 292.8,250.0 293.5,250.4C294.2,250.8 294.9,250.9 295.6,251.1C296.3,251.3 297.1,251.5 297.8,251.8C298.5,252.1 299.3,252.7 300.0,252.8C300.7,252.9 301.5,252.6 302.2,252.3C302.9,252.0 303.7,251.6 304.4,251.1C305.1,250.6 305.9,250.0 306.5,249.6C307.1,249.2 307.4,248.9 308.0,248.6C308.6,248.3 309.5,247.3 310.2,247.6C310.9,247.9 311.5,249.6 312.4,250.5C313.2,251.4 314.3,252.2 315.3,253.0C316.3,253.8 317.2,254.5 318.2,255.2C319.2,255.8 320.1,256.3 321.1,256.9C322.1,257.5 323.0,258.3 324.0,258.8C325.0,259.3 325.9,259.7 326.9,259.8C327.9,259.9 328.9,259.7 329.8,259.5C330.7,259.3 331.3,259.0 332.0,258.8C332.7,258.6 333.5,258.1 334.2,258.4C334.9,258.6 335.7,259.8 336.4,260.3C337.1,260.9 337.8,261.3 338.5,261.7C339.2,262.1 340.0,262.3 340.7,262.7C341.4,263.1 342.2,263.4 342.9,263.9C343.6,264.4 344.4,265.3 345.1,265.7C345.8,266.1 346.6,266.3 347.3,266.5C348.0,266.7 348.8,267.1 349.5,267.1C350.2,267.2 350.9,266.8 351.6,266.8C352.3,266.8 353.1,266.9 353.8,267.1C354.5,267.3 355.3,267.9 356.0,268.0C356.7,268.1 357.5,267.9 358.2,267.5C358.9,267.1 359.7,265.8 360.4,265.7C361.1,265.6 361.8,266.3 362.5,266.8C363.2,267.3 364.0,268.1 364.7,268.6C365.4,269.1 366.2,269.4 366.9,270.0C367.6,270.6 368.4,271.3 369.1,271.9C369.8,272.5 370.6,272.8 371.3,273.4C372.0,274.0 372.9,274.9 373.5,275.3C374.1,275.7 374.3,275.9 374.9,275.8C375.5,275.7 376.4,275.1 377.1,274.8C377.8,274.5 378.6,274.3 379.3,274.1C380.0,273.9 380.8,273.8 381.5,273.4C382.2,273.0 382.9,272.0 383.6,271.9C384.3,271.8 385.1,272.2 385.8,272.6C386.5,273.0 387.3,273.5 388.0,274.1C388.7,274.7 389.5,275.6 390.2,276.3C390.9,277.0 391.7,277.9 392.4,278.5C393.1,279.1 393.8,279.5 394.5,279.9C395.2,280.2 396.0,280.4 396.7,280.6C397.4,280.8 398.2,281.1 398.9,281.1C399.6,281.1 400.4,280.8 401.1,280.6C401.8,280.4 402.6,280.1 403.3,279.9C404.0,279.7 404.8,279.2 405.5,279.2C406.2,279.1 406.9,279.4 407.6,279.6C408.3,279.8 409.1,280.0 409.8,280.2C410.5,280.4 411.3,280.4 412.0,280.6C412.7,280.8 413.5,281.1 414.2,281.4C414.9,281.7 415.7,282.2 416.4,282.5C417.1,282.8 417.8,282.9 418.5,283.1C419.2,283.4 420.0,283.8 420.7,284.0C421.4,284.2 422.2,284.4 422.9,284.6C423.6,284.8 424.4,284.9 425.1,285.0C425.8,285.1 426.6,285.5 427.3,285.4C428.0,285.3 428.8,284.9 429.5,284.6C430.2,284.3 430.9,283.9 431.6,283.5C432.3,283.1 433.1,282.9 433.8,282.5C434.5,282.1 435.3,281.8 436.0,281.4C436.7,281.0 437.5,280.6 438.2,280.2C438.9,279.8 439.7,279.5 440.4,279.2C441.1,278.9 441.8,278.4 442.5,278.2C443.2,277.9 444.0,277.7 444.7,277.7C445.4,277.7 446.2,278.1 446.9,278.2C447.6,278.3 448.4,278.1 449.1,278.2C449.8,278.2 450.6,278.3 451.3,278.5C452.0,278.7 452.8,279.2 453.5,279.6C454.2,280.0 454.9,280.4 455.6,280.6C456.3,280.9 457.1,281.2 457.8,281.1C458.5,281.0 459.3,280.3 460.0,279.9C460.7,279.5 461.5,278.8 462.2,278.7C462.9,278.6 463.7,279.3 464.4,279.6C465.1,279.9 465.9,280.4 466.5,280.6C467.1,280.9 467.5,280.6 468.0,281.1C468.5,281.6 468.4,282.5 469.3,283.4C470.2,284.2 472.2,285.4 473.6,286.2C475.1,287.0 476.5,287.9 478.0,288.4C479.5,288.9 480.6,289.2 482.4,289.3C484.2,289.4 486.8,289.0 489.0,288.8C491.2,288.6 493.7,288.8 495.5,288.4C497.3,288.0 498.6,287.6 499.8,286.6C501.1,285.6 501.9,283.8 503.0,282.3C504.1,280.8 505.5,278.1 506.4,277.5C507.3,276.9 507.6,278.0 508.5,279.0C509.4,280.0 510.7,282.1 511.8,283.4C512.9,284.7 513.9,285.5 515.0,286.6C516.1,287.7 517.2,288.6 518.4,290.0C519.6,291.4 520.6,293.5 522.0,295.0C523.4,296.5 525.3,298.1 527.0,299.0C528.7,299.9 530.3,300.2 532.0,300.5C533.7,300.8 536.2,300.5 537.0,300.5"/>
<path stroke="#f7c54c" d="M71.2,228.1C71.5,227.9 72.4,227.1 73.1,227.1C73.8,227.1 74.6,227.8 75.3,228.1C76.0,228.4 76.8,229.0 77.5,229.0C78.2,229.0 79.0,228.7 79.6,228.1C80.2,227.5 80.5,226.3 81.1,225.6C81.7,224.9 82.6,223.8 83.3,223.7C84.0,223.6 84.6,225.1 85.2,224.9C85.8,224.7 86.2,222.9 86.9,222.3C87.6,221.7 88.4,221.3 89.1,221.3C89.8,221.3 90.6,221.8 91.3,222.3C92.0,222.8 92.8,224.0 93.5,224.2C94.2,224.4 94.9,223.6 95.6,223.7C96.3,223.8 97.1,224.5 97.8,224.6C98.5,224.7 99.3,224.5 100.0,224.2C100.7,223.9 101.5,223.3 102.2,222.7C102.9,222.1 103.7,221.2 104.4,220.5C105.1,219.8 105.8,219.2 106.5,218.4C107.2,217.6 108.0,216.5 108.7,215.9C109.4,215.3 110.2,215.1 110.9,215.0C111.6,214.9 112.4,215.2 113.1,215.5C113.8,215.8 114.6,216.3 115.3,216.9C116.0,217.5 116.8,218.4 117.5,219.1C118.2,219.8 118.9,220.6 119.6,220.8C120.3,221.0 121.1,220.9 121.8,220.5C122.5,220.1 123.3,219.2 124.0,218.4C124.7,217.6 125.5,216.6 126.2,215.5C126.9,214.4 127.7,213.0 128.4,211.8C129.1,210.7 129.8,209.6 130.5,208.6C131.2,207.6 132.0,206.7 132.7,206.0C133.4,205.3 134.3,204.7 134.9,204.3C135.5,203.9 135.9,203.6 136.4,203.8C136.9,204.0 137.2,204.7 137.8,205.3C138.4,205.9 139.3,206.7 140.0,207.2C140.7,207.7 141.5,207.7 142.2,208.3C142.9,208.9 143.7,209.8 144.4,210.8C145.1,211.8 145.9,213.3 146.5,214.4C147.1,215.5 147.4,216.5 148.0,217.2C148.6,217.9 149.5,218.1 150.2,218.7C150.9,219.2 151.7,220.1 152.4,220.5C153.1,220.9 153.8,221.1 154.5,221.3C155.2,221.6 156.0,221.5 156.7,222.0C157.4,222.5 158.2,223.7 158.9,224.2C159.6,224.7 160.4,225.2 161.1,224.9C161.8,224.7 162.6,223.3 163.3,222.7C164.0,222.1 164.8,221.7 165.5,221.3C166.2,220.9 166.9,220.9 167.6,220.5C168.3,220.1 169.1,219.8 169.8,219.1C170.5,218.4 171.3,216.8 172.0,216.2C172.7,215.6 173.5,215.3 174.2,215.5C174.9,215.7 175.7,217.0 176.4,217.6C177.1,218.2 177.8,218.6 178.5,219.1C179.2,219.6 180.0,220.2 180.7,220.5C181.4,220.8 182.2,220.9 182.9,220.8C183.6,220.7 184.4,219.7 185.1,219.8C185.8,219.9 186.6,221.3 187.3,221.3C188.0,221.3 188.8,220.4 189.5,219.8C190.2,219.2 190.9,217.8 191.6,217.6C192.3,217.4 193.1,218.2 193.8,218.4C194.5,218.7 195.3,219.3 196.0,219.1C196.7,218.8 197.5,217.2 198.2,216.9C198.9,216.7 199.7,217.7 200.4,217.6C201.1,217.5 201.8,216.7 202.5,216.2C203.2,215.7 204.0,215.2 204.7,214.7C205.4,214.2 206.2,213.2 206.9,213.3C207.6,213.4 208.4,214.8 209.1,215.5C209.8,216.2 210.6,217.3 211.3,217.6C212.0,217.9 212.8,217.4 213.5,217.3C214.2,217.2 214.9,217.0 215.6,216.9C216.3,216.8 217.1,216.5 217.8,216.5C218.5,216.5 219.3,217.0 220.0,216.9C220.7,216.8 221.5,216.4 222.2,216.2C222.9,216.0 223.7,215.8 224.4,215.5C225.1,215.2 225.9,214.7 226.5,214.7C227.1,214.7 227.3,215.2 228.0,215.5C228.7,215.8 229.9,216.0 230.9,216.2C231.9,216.4 232.8,216.5 233.8,216.5C234.8,216.5 235.8,216.5 236.7,216.2C237.5,215.9 238.2,215.2 238.9,214.7C239.6,214.2 240.4,213.6 241.1,213.0C241.8,212.4 242.6,211.7 243.3,211.1C244.0,210.5 244.8,210.0 245.5,209.6C246.2,209.2 246.9,209.1 247.6,208.9C248.3,208.7 249.1,208.4 249.8,208.2C250.5,208.0 251.3,207.8 252.0,207.5C252.7,207.2 253.5,207.0 254.2,206.7C254.9,206.4 255.7,206.1 256.4,205.7C257.1,205.3 257.8,204.9 258.5,204.3C259.2,203.8 260.0,203.0 260.7,202.4C261.4,201.8 262.2,201.1 262.9,200.5C263.6,199.9 264.5,199.4 265.1,199.0C265.7,198.6 266.0,198.4 266.5,198.0C267.0,197.6 267.5,197.1 268.0,196.5C268.5,195.9 269.0,195.2 269.5,194.4C270.0,193.6 270.5,192.2 270.9,191.5C271.2,190.8 271.2,190.3 271.6,190.0C272.0,189.7 272.4,190.5 273.0,189.5C273.6,188.5 274.2,185.3 275.0,184.0C275.8,182.7 276.8,182.1 277.7,181.8C278.6,181.6 279.6,182.7 280.5,182.5C281.4,182.3 282.5,181.4 283.4,180.7C284.3,180.0 285.1,178.8 286.0,178.5C286.9,178.2 287.8,178.4 288.6,179.0C289.4,179.6 290.1,180.6 290.8,181.8C291.5,183.0 292.4,184.8 293.0,186.2C293.6,187.6 293.8,188.6 294.2,190.0C294.6,191.4 295.1,193.0 295.6,194.4C296.1,195.8 296.6,197.2 297.1,198.7C297.6,200.1 298.0,201.9 298.5,203.1C299.0,204.3 299.5,205.2 300.0,206.0C300.5,206.8 300.9,207.5 301.5,208.2C302.1,208.9 302.9,209.8 303.6,210.4C304.3,211.0 305.1,210.9 305.8,211.8C306.5,212.7 307.3,215.0 308.0,215.9C308.7,216.8 309.5,216.7 310.2,217.3C310.9,218.0 311.7,219.1 312.4,219.8C313.1,220.5 313.8,221.0 314.5,221.3C315.2,221.6 316.0,221.5 316.7,221.7C317.4,221.9 318.2,222.1 318.9,222.3C319.6,222.5 320.4,222.4 321.1,222.7C321.8,223.0 322.6,223.8 323.3,224.2C324.0,224.6 324.8,224.7 325.5,224.9C326.2,225.1 326.9,225.3 327.6,225.6C328.3,225.9 329.1,226.4 329.8,226.7C330.5,227.0 331.3,227.2 332.0,227.5C332.7,227.8 333.5,228.2 334.2,228.5C334.9,228.8 335.7,229.1 336.4,229.3C337.1,229.6 337.8,229.7 338.5,230.0C339.2,230.3 340.0,230.6 340.7,231.0C341.4,231.4 342.2,231.9 342.9,232.2C343.6,232.5 344.4,232.7 345.1,232.9C345.8,233.1 346.6,233.1 347.3,233.3C348.0,233.5 348.8,233.6 349.5,233.9C350.2,234.2 350.9,234.7 351.6,235.1C352.3,235.5 353.1,236.0 353.8,236.3C354.5,236.6 355.3,236.7 356.0,236.8C356.7,236.9 357.5,236.9 358.2,236.8C358.9,236.7 359.7,236.3 360.4,236.3C361.1,236.3 361.8,236.4 362.5,236.8C363.2,237.2 364.0,238.1 364.7,238.7C365.4,239.3 366.2,239.8 366.9,240.2C367.6,240.6 368.4,240.8 369.1,241.2C369.8,241.6 370.6,242.1 371.3,242.4C372.0,242.7 372.8,243.1 373.5,243.1C374.2,243.1 374.9,242.9 375.6,242.7C376.3,242.5 377.1,242.1 377.8,242.1C378.5,242.1 379.3,242.4 380.0,242.4C380.7,242.4 381.5,242.1 382.2,242.1C382.9,242.1 383.7,242.4 384.4,242.7C385.1,243.0 385.9,243.7 386.5,243.8C387.1,244.0 387.4,243.5 388.0,243.6C388.6,243.7 389.5,244.1 390.2,244.4C390.9,244.7 391.7,245.1 392.4,245.4C393.1,245.7 393.8,246.1 394.5,246.3C395.2,246.5 396.0,246.6 396.7,246.8C397.4,247.0 398.2,247.2 398.9,247.3C399.6,247.4 400.4,247.4 401.1,247.3C401.8,247.2 402.6,247.0 403.3,246.8C404.0,246.6 404.8,246.4 405.5,246.3C406.2,246.2 406.9,246.4 407.6,246.5C408.3,246.6 409.1,246.7 409.8,246.8C410.5,246.9 411.3,247.1 412.0,247.3C412.7,247.6 413.5,247.9 414.2,248.3C414.9,248.7 415.7,249.1 416.4,249.5C417.1,249.9 417.8,250.2 418.5,250.6C419.2,251.0 420.0,251.6 420.7,252.1C421.4,252.6 422.2,253.0 422.9,253.5C423.6,254.0 424.4,254.6 425.1,255.0C425.8,255.4 426.6,255.8 427.3,256.0C428.0,256.2 428.8,256.4 429.5,256.4C430.2,256.4 430.9,256.1 431.6,256.0C432.3,255.9 433.1,255.8 433.8,255.6C434.5,255.4 435.3,255.2 436.0,255.0C436.7,254.8 437.5,254.6 438.2,254.5C438.9,254.4 439.7,254.4 440.4,254.5C441.1,254.6 441.8,254.9 442.5,255.0C443.2,255.1 444.0,255.2 444.7,255.3C445.4,255.4 446.2,255.5 446.9,255.6C447.6,255.7 448.4,255.9 449.1,256.0C449.8,256.1 450.6,256.2 451.3,256.4C452.0,256.6 452.8,256.9 453.5,257.0C454.2,257.1 454.9,256.8 455.6,256.7C456.3,256.6 457.1,256.4 457.8,256.4C458.5,256.4 459.3,256.6 460.0,256.7C460.7,256.8 461.5,256.9 462.2,257.0C462.9,257.1 463.7,257.4 464.4,257.5C465.1,257.6 465.9,257.8 466.5,257.9C467.1,258.0 467.5,257.8 468.0,258.2C468.5,258.6 468.4,259.3 469.3,260.0C470.2,260.7 472.2,261.7 473.6,262.6C475.1,263.5 476.5,264.6 478.0,265.3C479.5,266.0 480.9,266.5 482.4,266.6C483.8,266.7 485.3,266.0 486.7,266.0C488.1,266.0 489.5,266.4 491.0,266.6C492.5,266.8 494.0,267.2 495.5,267.0C497.0,266.8 498.4,266.0 499.8,265.3C501.2,264.6 502.8,263.4 504.2,262.6C505.6,261.8 507.2,260.9 508.5,260.5C509.8,260.1 510.7,259.8 511.8,260.0C512.9,260.2 513.9,260.9 515.0,261.5C516.1,262.1 517.3,262.8 518.4,263.7C519.5,264.6 520.3,265.7 521.6,267.0C522.9,268.3 524.5,270.1 526.0,271.4C527.5,272.7 528.9,273.6 530.4,274.6C531.9,275.6 533.6,276.9 534.7,277.5C535.8,278.1 536.6,277.9 537.0,278.0"/>
<path stroke="#b464c0" d="M71.2,228.5C71.5,228.4 72.4,228.3 73.1,227.8C73.8,227.3 74.7,225.8 75.3,225.6C75.9,225.4 76.2,226.0 76.7,226.4C77.2,226.8 77.6,227.7 78.2,228.1C78.8,228.5 79.7,229.5 80.4,229.0C81.1,228.5 81.8,225.7 82.5,224.9C83.2,224.1 84.0,224.6 84.7,224.2C85.4,223.8 86.2,223.3 86.9,222.7C87.6,222.1 88.4,220.7 89.1,220.5C89.8,220.3 90.6,221.1 91.3,221.3C92.0,221.6 92.8,221.6 93.5,222.0C94.2,222.4 94.9,223.1 95.6,223.5C96.3,223.9 97.1,224.6 97.8,224.6C98.5,224.6 99.3,224.0 100.0,223.7C100.7,223.4 101.5,222.9 102.2,222.7C102.9,222.5 103.7,222.5 104.4,222.3C105.1,222.1 105.8,221.6 106.5,221.3C107.2,221.0 108.0,220.4 108.7,220.3C109.4,220.2 110.2,220.5 110.9,220.8C111.6,221.1 112.4,221.7 113.1,222.3C113.8,222.9 114.6,223.5 115.3,224.2C116.0,224.9 116.8,226.1 117.5,226.7C118.2,227.2 118.9,227.4 119.6,227.5C120.3,227.6 121.1,227.4 121.8,227.5C122.5,227.6 123.3,227.6 124.0,227.8C124.7,228.0 125.5,228.2 126.2,228.5C126.9,228.8 127.7,229.2 128.4,229.3C129.1,229.4 129.8,228.9 130.5,229.0C131.2,229.1 132.0,229.8 132.7,230.0C133.4,230.2 134.2,230.6 134.9,230.4C135.6,230.2 136.4,229.1 137.1,229.0C137.8,228.9 138.6,229.2 139.3,229.6C140.0,230.0 140.8,231.1 141.5,231.5C142.2,231.9 142.9,232.0 143.6,231.9C144.3,231.8 145.1,231.1 145.8,230.7C146.5,230.3 147.2,229.9 148.0,229.7C148.8,229.5 149.9,229.4 150.9,229.6C151.9,229.8 153.0,230.1 153.8,230.7C154.7,231.2 155.3,232.7 156.0,232.9C156.7,233.2 157.5,232.1 158.2,232.2C158.9,232.3 159.7,233.6 160.4,233.6C161.1,233.6 161.8,232.5 162.5,232.2C163.2,231.9 164.0,232.2 164.7,231.9C165.4,231.7 166.2,231.1 166.9,230.7C167.6,230.3 168.4,229.8 169.1,229.3C169.8,228.8 170.6,228.1 171.3,227.5C172.0,226.9 172.8,225.8 173.5,225.6C174.2,225.4 174.9,226.1 175.6,226.4C176.3,226.7 177.1,227.4 177.8,227.5C178.5,227.6 179.3,226.9 180.0,227.1C180.7,227.3 181.5,228.3 182.2,228.5C182.9,228.7 183.7,228.3 184.4,228.1C185.1,227.9 185.8,227.4 186.5,227.1C187.2,226.8 188.0,226.8 188.7,226.4C189.4,226.0 190.3,224.9 190.9,224.9C191.5,224.9 191.9,225.7 192.4,226.4C192.9,227.1 193.3,228.7 193.8,229.3C194.3,229.9 194.7,230.2 195.3,230.0C195.9,229.8 196.8,228.7 197.5,228.1C198.2,227.5 198.9,226.9 199.6,226.4C200.3,225.9 201.1,225.5 201.8,224.9C202.5,224.3 203.3,223.2 204.0,222.7C204.7,222.2 205.5,221.9 206.2,221.7C206.9,221.5 207.7,221.3 208.4,221.3C209.1,221.3 209.8,221.5 210.5,221.7C211.2,221.9 212.0,222.1 212.7,222.3C213.4,222.5 214.2,222.5 214.9,222.7C215.6,222.9 216.4,223.6 217.1,223.5C217.8,223.4 218.6,222.6 219.3,222.0C220.0,221.4 220.8,220.4 221.5,219.8C222.2,219.2 222.9,218.9 223.6,218.4C224.3,217.9 225.1,217.3 225.8,216.9C226.5,216.5 227.2,216.3 228.0,216.2C228.8,216.1 229.9,216.4 230.9,216.5C231.9,216.6 232.8,216.7 233.8,216.9C234.8,217.1 235.8,217.8 236.7,217.9C237.5,218.0 238.2,217.6 238.9,217.3C239.6,217.0 240.4,216.5 241.1,215.9C241.8,215.3 242.6,214.7 243.3,214.0C244.0,213.3 244.8,212.5 245.5,211.8C246.2,211.2 246.9,210.6 247.6,210.1C248.3,209.6 249.1,209.3 249.8,208.6C250.5,207.9 251.3,206.9 252.0,206.0C252.7,205.1 253.5,204.1 254.2,203.1C254.9,202.1 255.8,201.2 256.4,200.2C257.0,199.2 257.3,198.2 257.8,197.3C258.3,196.5 258.8,195.8 259.3,195.1C259.8,194.4 260.1,193.6 260.7,192.9C261.3,192.2 262.4,191.2 262.9,190.7C263.4,190.2 262.8,191.1 263.6,190.0C264.4,188.9 266.4,185.7 267.5,184.0C268.6,182.3 269.4,181.0 270.3,179.6C271.2,178.2 272.1,176.6 273.0,175.3C273.9,174.0 274.6,172.5 275.5,171.6C276.4,170.7 277.4,169.8 278.4,169.8C279.3,169.8 280.3,171.5 281.2,171.6C282.1,171.7 282.8,170.7 283.8,170.3C284.8,169.9 286.0,169.5 287.0,169.4C288.0,169.3 289.2,169.2 290.0,169.8C290.8,170.4 291.3,171.4 292.0,173.0C292.7,174.6 293.6,177.2 294.3,179.6C295.1,182.0 295.9,185.6 296.5,187.3C297.1,189.0 297.5,188.8 298.1,190.0C298.7,191.2 299.3,192.8 300.0,194.4C300.7,196.0 301.5,197.9 302.2,199.5C302.9,201.1 303.7,202.8 304.4,203.8C305.1,204.8 305.9,205.3 306.5,205.7C307.1,206.1 307.4,205.8 308.0,206.3C308.6,206.8 309.5,207.7 310.2,208.6C310.9,209.5 311.7,210.7 312.4,211.5C313.1,212.3 313.8,212.8 314.5,213.3C315.2,213.8 316.0,214.3 316.7,214.7C317.4,215.1 318.2,215.5 318.9,215.9C319.6,216.3 320.4,216.6 321.1,216.9C321.8,217.2 322.6,217.3 323.3,217.6C324.0,217.8 324.8,218.3 325.5,218.4C326.2,218.5 326.9,217.8 327.6,217.9C328.3,218.0 329.1,218.5 329.8,218.8C330.5,219.1 331.3,219.5 332.0,219.8C332.7,220.1 333.5,220.3 334.2,220.8C334.9,221.3 335.7,222.1 336.4,222.7C337.1,223.3 337.8,223.7 338.5,224.2C339.2,224.7 340.0,225.1 340.7,225.6C341.4,226.1 342.2,226.7 342.9,227.1C343.6,227.5 344.4,227.9 345.1,228.1C345.8,228.3 346.6,228.5 347.3,228.5C348.0,228.5 348.8,228.1 349.5,228.1C350.2,228.1 350.9,228.3 351.6,228.5C352.3,228.7 353.1,228.9 353.8,229.0C354.5,229.1 355.3,229.2 356.0,229.0C356.7,228.8 357.5,228.3 358.2,228.1C358.9,227.8 359.7,227.3 360.4,227.5C361.1,227.7 361.8,228.7 362.5,229.3C363.2,229.9 364.0,230.5 364.7,231.0C365.4,231.5 366.2,231.8 366.9,232.2C367.6,232.6 368.4,233.1 369.1,233.6C369.8,234.1 370.6,234.8 371.3,235.4C372.0,236.0 372.9,237.1 373.5,237.3C374.1,237.5 374.4,237.3 374.9,236.8C375.4,236.3 375.8,234.9 376.4,234.4C377.0,233.9 377.8,233.7 378.5,233.6C379.2,233.5 380.0,233.8 380.7,233.9C381.4,234.0 382.2,234.2 382.9,234.4C383.6,234.6 384.2,234.5 385.1,234.8C386.0,235.1 387.1,236.0 388.0,236.4C388.9,236.8 389.5,237.2 390.2,237.5C390.9,237.8 391.7,237.8 392.4,238.1C393.1,238.3 393.8,238.7 394.5,239.0C395.2,239.3 396.0,239.9 396.7,240.0C397.4,240.1 398.2,239.3 398.9,239.3C399.6,239.3 400.4,240.1 401.1,240.0C401.8,239.9 402.6,239.4 403.3,239.0C404.0,238.6 404.8,237.9 405.5,237.5C406.2,237.1 406.9,236.7 407.6,236.7C408.3,236.7 409.1,237.2 409.8,237.5C410.5,237.8 411.3,238.2 412.0,238.5C412.7,238.8 413.5,239.2 414.2,239.6C414.9,240.0 415.7,240.4 416.4,241.0C417.1,241.6 417.8,242.3 418.5,242.9C419.2,243.5 420.0,243.8 420.7,244.4C421.4,245.0 422.2,245.8 422.9,246.3C423.6,246.9 424.4,247.4 425.1,247.7C425.8,248.0 426.6,248.2 427.3,248.3C428.0,248.4 428.8,248.1 429.5,248.0C430.2,247.9 430.9,247.7 431.6,247.7C432.3,247.7 433.1,247.8 433.8,248.0C434.5,248.2 435.3,248.5 436.0,248.7C436.7,248.9 437.5,248.9 438.2,249.2C438.9,249.4 439.7,249.9 440.4,250.2C441.1,250.5 441.8,250.7 442.5,250.9C443.2,251.1 444.0,251.5 444.7,251.6C445.4,251.7 446.2,251.5 446.9,251.6C447.6,251.7 448.4,252.0 449.1,252.1C449.8,252.2 450.6,252.3 451.3,252.4C452.0,252.5 452.8,252.7 453.5,252.7C454.2,252.7 454.9,252.5 455.6,252.4C456.3,252.3 457.1,252.2 457.8,252.1C458.5,252.0 459.3,251.7 460.0,251.6C460.7,251.5 461.5,251.5 462.2,251.6C462.9,251.7 463.7,251.9 464.4,252.1C465.1,252.3 465.9,252.5 466.5,252.7C467.1,252.9 467.5,252.7 468.0,253.1C468.5,253.5 468.4,254.3 469.3,255.0C470.2,255.7 472.2,256.5 473.6,257.2C475.1,257.9 476.5,258.8 478.0,259.4C479.5,259.9 480.9,260.0 482.4,260.5C483.8,261.0 485.3,262.1 486.7,262.6C488.1,263.1 489.5,263.3 491.0,263.7C492.5,264.1 494.0,264.7 495.5,264.8C497.0,264.9 498.4,265.1 499.8,264.4C501.2,263.7 502.9,262.1 504.2,260.5C505.5,258.9 506.4,256.4 507.5,255.0C508.6,253.6 509.6,252.4 510.7,252.2C511.8,251.9 512.9,253.0 514.0,253.5C515.1,254.0 516.2,254.0 517.3,255.0C518.4,256.0 519.4,257.9 520.5,259.4C521.6,260.8 522.7,262.4 523.8,263.7C524.9,265.0 525.9,266.0 527.0,267.0C528.1,268.0 529.3,269.1 530.4,269.6C531.5,270.2 532.5,270.2 533.6,270.3C534.7,270.4 536.4,270.3 537.0,270.3"/>
<path stroke="#b464c0" d="M70.9,216.7C71.4,216.4 72.8,215.6 73.7,215.1C74.6,214.6 75.5,214.0 76.4,213.8C77.3,213.6 78.3,214.1 79.2,213.9C80.1,213.7 81.0,213.0 81.9,212.8C82.8,212.7 83.8,213.2 84.7,213.0C85.6,212.8 86.5,212.3 87.4,211.9C88.3,211.5 89.3,211.1 90.2,210.8C91.1,210.5 92.0,209.9 92.9,209.9C93.8,209.9 94.8,210.5 95.7,210.8C96.6,211.1 97.5,212.0 98.4,211.7C99.3,211.3 100.3,209.6 101.2,208.7C102.1,207.8 103.0,206.9 103.9,206.0C104.8,205.1 105.9,204.2 106.7,203.2C107.5,202.2 108.3,200.9 109.0,200.0C109.7,199.1 110.2,198.2 110.9,198.0C111.6,197.8 112.4,198.4 113.1,199.0C113.8,199.6 114.6,200.5 115.3,201.3C116.0,202.1 116.9,203.3 117.5,203.8C118.1,204.3 118.3,204.6 118.9,204.5C119.5,204.4 120.2,203.9 121.1,203.1C121.9,202.3 123.0,200.7 124.0,199.5C125.0,198.3 126.1,196.9 126.9,195.8C127.8,194.7 128.4,193.9 129.1,192.9C129.8,191.9 130.6,191.1 131.3,190.0C132.0,188.9 132.4,187.2 133.3,186.2C134.2,185.2 135.4,184.2 136.5,184.0C137.6,183.8 138.7,184.1 139.8,184.7C140.9,185.2 142.0,186.2 143.0,187.3C144.0,188.5 145.2,190.1 146.0,191.6C146.8,193.1 147.3,195.0 148.0,196.1C148.7,197.2 149.5,197.4 150.2,198.1C150.9,198.8 151.7,199.6 152.4,200.4C153.1,201.2 153.8,202.2 154.5,202.9C155.2,203.6 155.8,204.3 156.4,204.8C157.0,205.3 157.5,205.9 158.2,205.8C158.9,205.7 159.7,204.8 160.4,204.4C161.1,204.0 161.8,204.0 162.5,203.6C163.2,203.2 164.0,202.8 164.7,202.2C165.4,201.6 166.2,200.5 166.9,200.0C167.6,199.5 168.4,199.6 169.1,199.0C169.8,198.4 170.6,197.2 171.3,196.4C172.0,195.6 172.8,194.3 173.5,194.2C174.2,194.1 174.9,195.0 175.6,195.6C176.3,196.2 177.1,197.1 177.8,197.8C178.5,198.5 179.3,199.3 180.0,200.0C180.7,200.7 181.5,201.6 182.2,202.2C182.9,202.8 183.7,203.2 184.4,203.3C185.1,203.4 185.8,203.1 186.5,202.9C187.2,202.7 188.0,202.0 188.7,201.9C189.4,201.8 190.2,202.3 190.9,202.2C191.6,202.0 192.4,201.4 193.1,201.0C193.8,200.6 194.6,200.3 195.3,200.0C196.0,199.7 196.8,199.3 197.5,199.0C198.2,198.7 198.9,198.2 199.6,198.1C200.3,197.9 201.1,198.3 201.8,198.1C202.5,197.9 203.3,197.4 204.0,197.1C204.7,196.8 205.5,196.4 206.2,196.1C206.8,195.8 207.3,195.1 207.9,195.2C208.5,195.2 209.1,196.0 209.8,196.4C210.5,196.8 211.3,197.3 212.0,197.8C212.7,198.3 213.5,198.8 214.2,199.3C214.9,199.8 215.8,200.3 216.4,200.7C217.0,201.1 217.2,201.6 217.8,201.5C218.4,201.4 219.3,200.8 220.0,200.4C220.7,200.0 221.5,199.7 222.2,199.3C222.9,198.9 223.7,198.5 224.4,198.1C225.1,197.7 225.9,197.0 226.5,196.7C227.1,196.4 227.2,196.2 228.0,196.4C228.8,196.6 230.4,197.6 231.6,198.0C232.8,198.4 234.2,198.8 235.3,199.0C236.4,199.2 237.2,199.7 238.2,199.5C239.2,199.3 240.1,198.5 241.1,198.0C242.1,197.5 243.0,196.9 244.0,196.5C245.0,196.1 245.9,196.1 246.9,195.8C247.9,195.5 248.8,195.1 249.8,194.7C250.8,194.3 251.8,193.7 252.7,193.6C253.5,193.5 254.2,194.3 254.9,194.1C255.6,193.9 256.2,192.8 257.1,192.2C258.0,191.6 259.3,191.1 260.0,190.7C260.7,190.3 260.4,191.1 261.5,190.0C262.6,188.9 265.0,186.1 266.4,184.0C267.8,181.9 268.6,179.9 269.6,177.5C270.6,175.1 271.6,172.2 272.5,169.8C273.4,167.4 274.0,165.1 274.7,163.3C275.4,161.5 275.9,160.0 276.8,159.0C277.7,158.0 279.0,157.3 280.0,157.2C281.0,157.1 281.8,158.9 282.7,158.5C283.6,158.1 284.7,155.7 285.6,154.5C286.5,153.3 287.4,151.7 288.2,151.3C289.0,150.9 289.8,151.1 290.4,152.0C291.0,152.9 291.4,154.4 292.0,156.7C292.6,158.9 293.2,162.4 293.8,165.5C294.4,168.6 295.2,171.2 295.8,175.3C296.4,179.4 296.5,186.9 297.1,190.0C297.7,193.1 298.6,192.4 299.3,193.6C300.0,194.8 300.8,196.2 301.5,197.3C302.2,198.4 302.9,199.3 303.6,200.2C304.3,201.0 305.1,202.0 305.8,202.4C306.5,202.8 307.3,202.2 308.0,202.4C308.7,202.6 309.5,203.3 310.2,203.8C310.9,204.3 311.7,204.9 312.4,205.3C313.1,205.7 313.8,205.6 314.5,206.0C315.2,206.4 316.0,206.9 316.7,207.5C317.4,208.1 318.2,208.9 318.9,209.6C319.6,210.3 320.4,211.0 321.1,211.5C321.8,212.0 322.6,212.2 323.3,212.5C324.0,212.8 324.8,213.2 325.5,213.3C326.2,213.4 326.9,213.1 327.6,213.0C328.3,212.9 329.1,212.3 329.8,212.5C330.5,212.7 331.3,213.4 332.0,214.0C332.7,214.6 333.5,215.5 334.2,215.9C334.9,216.3 335.7,216.4 336.4,216.5C337.1,216.6 337.8,216.0 338.5,216.2C339.2,216.4 340.0,217.2 340.7,217.9C341.4,218.6 342.2,219.7 342.9,220.5C343.6,221.3 344.4,222.2 345.1,222.7C345.8,223.2 346.6,223.5 347.3,223.7C348.0,223.9 348.8,223.5 349.5,223.7C350.2,223.8 350.9,224.4 351.6,224.6C352.3,224.8 353.1,224.9 353.8,224.9C354.5,224.9 355.3,224.6 356.0,224.6C356.7,224.6 357.5,225.1 358.2,224.9C358.9,224.7 359.8,223.4 360.4,223.2C361.0,223.0 361.5,223.3 362.1,223.7C362.7,224.1 363.3,224.9 364.0,225.6C364.7,226.3 365.5,227.1 366.2,227.8C366.9,228.5 367.7,229.4 368.4,230.0C369.1,230.6 369.8,231.0 370.5,231.5C371.2,232.0 372.0,232.6 372.7,232.9C373.4,233.2 374.2,233.8 374.9,233.6C375.6,233.4 376.4,232.0 377.1,231.5C377.8,231.0 378.6,230.8 379.3,230.7C380.0,230.6 380.8,230.9 381.5,231.0C382.2,231.1 382.9,231.4 383.6,231.5C384.3,231.6 385.1,231.3 385.8,231.5C386.5,231.7 387.3,232.3 388.0,232.7C388.7,233.1 389.5,233.2 390.2,233.7C390.9,234.2 391.7,235.0 392.4,235.6C393.1,236.2 393.8,236.7 394.5,237.1C395.2,237.5 396.0,237.9 396.7,238.1C397.4,238.3 398.2,237.9 398.9,238.1C399.6,238.2 400.4,239.0 401.1,239.0C401.8,239.0 402.6,238.5 403.3,238.1C404.0,237.7 404.8,236.7 405.5,236.4C406.2,236.1 406.9,236.0 407.6,236.1C408.3,236.2 409.1,237.0 409.8,237.1C410.5,237.2 411.3,236.6 412.0,236.7C412.7,236.8 413.5,237.2 414.2,237.5C414.9,237.8 415.7,238.1 416.4,238.5C417.1,238.9 417.8,239.5 418.5,240.0C419.2,240.5 420.0,241.0 420.7,241.5C421.4,242.0 422.2,242.4 422.9,242.9C423.6,243.4 424.4,244.0 425.1,244.4C425.8,244.8 426.6,245.1 427.3,245.4C428.0,245.7 428.8,246.3 429.5,246.3C430.2,246.3 430.9,245.7 431.6,245.4C432.3,245.2 433.1,245.0 433.8,244.8C434.5,244.6 435.3,244.6 436.0,244.4C436.7,244.2 437.5,243.8 438.2,243.6C438.9,243.4 439.7,243.2 440.4,243.3C441.1,243.4 441.8,243.7 442.5,243.9C443.2,244.2 444.0,244.6 444.7,244.8C445.4,245.0 446.2,245.1 446.9,245.1C447.6,245.1 448.4,244.8 449.1,244.8C449.8,244.8 450.6,245.0 451.3,245.1C452.0,245.2 452.8,245.2 453.5,245.4C454.2,245.6 454.9,246.3 455.6,246.3C456.3,246.3 457.1,245.7 457.8,245.4C458.5,245.1 459.3,244.5 460.0,244.4C460.7,244.3 461.5,244.8 462.2,245.1C462.9,245.4 463.7,245.9 464.4,246.3C465.1,246.7 465.9,247.1 466.5,247.3C467.1,247.5 467.5,247.3 468.0,247.7C468.5,248.1 468.4,248.8 469.3,249.5C470.2,250.2 472.2,251.3 473.6,252.2C475.1,253.1 476.5,254.7 478.0,255.0C479.5,255.3 480.9,254.1 482.4,254.3C483.8,254.6 485.3,256.2 486.7,256.5C488.1,256.8 489.5,256.0 491.0,256.0C492.5,256.0 494.0,256.5 495.5,256.5C497.0,256.5 498.6,256.8 499.8,256.0C501.1,255.2 501.9,253.2 503.0,251.7C504.1,250.2 505.5,248.0 506.4,247.0C507.3,246.0 507.8,245.3 508.5,245.6C509.2,245.8 509.8,247.4 510.7,248.5C511.6,249.6 512.9,251.4 514.0,252.2C515.1,253.0 516.2,252.7 517.3,253.5C518.4,254.3 519.4,255.9 520.5,257.2C521.6,258.5 522.7,260.2 523.8,261.5C524.9,262.8 525.9,263.7 527.0,264.8C528.1,265.9 529.3,267.3 530.4,268.0C531.5,268.7 532.5,269.0 533.6,269.2C534.7,269.4 536.4,269.2 537.0,269.2"/>
<path stroke="#4cc6ef" d="M71.2,235.8C71.6,235.6 72.9,235.0 73.8,234.8C74.7,234.6 75.7,234.7 76.7,234.4C77.7,234.2 78.8,233.4 79.6,233.3C80.4,233.2 81.1,234.0 81.8,233.9C82.5,233.8 83.3,233.0 84.0,232.9C84.7,232.8 85.5,233.6 86.2,233.6C86.9,233.6 87.7,233.1 88.4,232.9C89.1,232.7 89.8,232.2 90.5,232.2C91.2,232.2 92.0,232.8 92.7,232.9C93.4,233.0 94.2,232.6 94.9,232.5C95.6,232.4 96.4,232.5 97.1,232.2C97.8,231.9 98.6,231.2 99.3,230.7C100.0,230.2 100.8,229.7 101.5,229.3C102.2,228.9 102.9,228.6 103.6,228.1C104.3,227.6 105.1,226.9 105.8,226.4C106.5,225.9 107.3,225.5 108.0,224.9C108.7,224.3 109.3,223.2 109.9,222.7C110.5,222.2 111.0,221.7 111.6,221.7C112.2,221.7 112.8,222.2 113.4,222.7C114.0,223.2 114.6,224.2 115.3,224.9C116.0,225.6 116.8,226.8 117.5,227.1C118.2,227.3 118.9,226.8 119.6,226.4C120.3,226.0 121.1,225.6 121.8,224.9C122.5,224.2 123.3,223.2 124.0,222.0C124.7,220.8 125.5,219.2 126.2,217.6C126.9,216.0 127.7,214.1 128.4,212.5C129.1,210.9 129.8,209.4 130.5,208.2C131.2,207.0 132.0,206.2 132.7,205.3C133.4,204.5 134.0,203.8 134.6,203.1C135.2,202.4 135.9,200.9 136.4,200.9C136.9,200.9 137.3,202.5 137.8,203.1C138.3,203.7 138.7,203.9 139.3,204.5C139.9,205.1 140.8,205.8 141.5,206.7C142.2,207.5 142.9,208.4 143.6,209.6C144.3,210.8 145.1,212.5 145.8,214.0C146.5,215.5 147.3,217.4 148.0,218.4C148.7,219.4 149.5,219.1 150.2,219.8C150.9,220.5 151.7,221.8 152.4,222.7C153.1,223.5 153.8,224.2 154.5,224.9C155.2,225.6 156.0,226.6 156.7,227.1C157.4,227.6 157.9,228.2 158.5,228.1C159.1,228.0 159.7,227.1 160.4,226.4C161.1,225.8 161.8,224.9 162.5,224.2C163.2,223.5 164.0,222.5 164.7,222.0C165.4,221.5 166.2,221.6 166.9,221.3C167.6,221.1 168.4,221.0 169.1,220.5C169.8,220.0 170.6,219.2 171.3,218.4C172.0,217.6 172.8,216.1 173.5,215.9C174.2,215.7 174.9,216.8 175.6,217.3C176.3,217.8 177.1,218.4 177.8,219.1C178.5,219.8 179.3,220.5 180.0,221.3C180.7,222.2 181.5,223.3 182.2,224.2C182.9,225.0 183.7,225.8 184.4,226.4C185.1,227.0 185.8,227.6 186.5,227.5C187.2,227.4 188.0,226.0 188.7,225.6C189.4,225.2 190.2,224.9 190.9,224.9C191.6,224.9 192.4,225.7 193.1,225.6C193.8,225.5 194.6,224.9 195.3,224.2C196.0,223.5 196.8,221.9 197.5,221.3C198.2,220.7 198.9,220.5 199.6,220.5C200.3,220.5 201.1,221.1 201.8,221.3C202.5,221.5 203.3,221.7 204.0,221.7C204.7,221.7 205.5,221.5 206.2,221.3C206.9,221.2 207.7,220.7 208.4,220.8C209.1,220.9 209.8,221.7 210.5,222.0C211.2,222.3 212.0,222.3 212.7,222.7C213.4,223.1 214.2,223.6 214.9,224.2C215.6,224.8 216.4,225.6 217.1,226.1C217.8,226.6 218.6,227.2 219.3,227.1C220.0,227.0 220.8,226.1 221.5,225.6C222.2,225.1 222.9,224.5 223.6,224.2C224.3,223.8 225.1,223.8 225.8,223.5C226.5,223.2 227.3,222.4 228.0,222.3C228.7,222.2 229.5,222.4 230.2,222.7C230.9,223.0 231.7,223.7 232.4,224.2C233.1,224.7 233.8,225.2 234.5,225.6C235.2,226.0 236.0,226.3 236.7,226.4C237.4,226.5 238.2,226.4 238.9,226.1C239.6,225.8 240.5,225.2 241.1,224.6C241.7,224.0 242.0,222.9 242.5,222.3C243.0,221.8 243.5,221.4 244.0,221.3C244.5,221.2 244.9,221.5 245.5,221.7C246.1,221.9 246.9,222.4 247.6,222.7C248.3,222.9 249.2,223.3 249.8,223.2C250.4,223.1 250.8,222.4 251.3,222.0C251.8,221.6 252.2,220.8 252.7,220.8C253.2,220.8 253.7,221.6 254.2,222.0C254.7,222.4 255.1,223.1 255.6,223.2C256.1,223.3 256.6,223.0 257.1,222.7C257.6,222.4 258.0,221.4 258.5,221.3C259.0,221.2 259.4,222.3 260.0,222.3C260.6,222.3 261.6,221.3 262.2,221.3C262.8,221.3 263.1,222.4 263.6,222.3C264.1,222.2 264.6,220.7 265.1,220.5C265.6,220.3 266.0,221.0 266.5,221.3C267.0,221.6 267.5,222.4 268.0,222.3C268.5,222.2 269.0,221.3 269.5,220.8C270.0,220.3 270.4,219.8 270.9,219.1C271.4,218.4 271.9,217.8 272.4,216.9C272.9,216.1 273.3,214.9 273.8,214.0C274.3,213.1 274.8,212.1 275.3,211.5C275.8,210.9 276.2,210.3 276.7,210.4C277.2,210.5 277.7,211.3 278.2,211.8C278.7,212.3 279.1,213.1 279.6,213.3C280.1,213.5 280.6,212.9 281.1,213.0C281.6,213.1 282.0,213.8 282.5,214.0C283.0,214.2 283.5,214.7 284.0,214.4C284.5,214.2 285.1,212.9 285.5,212.5C285.9,212.1 286.1,211.7 286.5,211.8C286.9,211.9 287.3,212.6 287.9,213.0C288.4,213.4 289.1,213.5 289.8,214.0C290.5,214.5 291.3,215.3 292.0,216.2C292.7,217.0 293.5,218.0 294.2,219.1C294.9,220.2 295.7,221.5 296.4,222.7C297.1,223.9 297.8,225.2 298.5,226.1C299.2,227.0 300.0,227.6 300.7,228.1C301.4,228.6 302.2,228.7 302.9,229.3C303.6,229.9 304.2,231.1 305.1,231.5C306.0,231.9 307.1,231.3 308.0,231.5C308.9,231.7 309.5,232.0 310.2,232.5C310.9,233.0 311.7,234.0 312.4,234.4C313.1,234.8 313.8,234.5 314.5,234.8C315.2,235.1 316.0,235.8 316.7,236.3C317.4,236.8 318.2,237.5 318.9,238.0C319.6,238.5 320.4,239.1 321.1,239.5C321.8,239.9 322.6,240.3 323.3,240.6C324.0,240.9 324.8,241.1 325.5,241.2C326.2,241.3 326.9,241.2 327.6,241.2C328.3,241.1 329.1,240.8 329.8,240.9C330.5,241.0 331.3,241.3 332.0,241.6C332.7,241.9 333.5,242.3 334.2,242.7C334.9,243.1 335.7,243.4 336.4,243.8C337.1,244.2 337.9,245.1 338.5,245.3C339.1,245.5 339.4,244.7 340.0,245.0C340.6,245.3 341.5,246.5 342.2,247.2C342.9,247.9 343.7,248.6 344.4,249.1C345.1,249.6 345.8,249.9 346.5,250.1C347.2,250.3 348.0,250.4 348.7,250.5C349.4,250.6 350.2,250.6 350.9,250.8C351.6,251.0 352.4,251.3 353.1,251.5C353.8,251.7 354.6,252.1 355.3,252.0C356.0,251.9 356.8,251.5 357.5,251.1C358.2,250.7 358.9,250.0 359.6,249.7C360.3,249.4 361.1,249.1 361.8,249.4C362.5,249.7 363.3,250.8 364.0,251.5C364.7,252.2 365.5,252.9 366.2,253.4C366.9,253.9 367.7,254.0 368.4,254.5C369.1,255.0 369.8,255.7 370.5,256.3C371.2,256.9 372.0,257.8 372.7,258.4C373.4,259.0 374.0,259.8 374.6,259.8C375.2,259.8 375.8,258.9 376.4,258.4C377.0,257.9 377.8,257.0 378.5,256.6C379.2,256.2 380.0,256.5 380.7,256.3C381.4,256.1 382.2,255.7 382.9,255.5C383.6,255.3 384.2,255.1 385.1,255.2C386.0,255.3 387.1,255.7 388.0,256.3C388.9,256.9 389.5,258.1 390.2,258.8C390.9,259.5 391.7,259.7 392.4,260.3C393.1,260.9 393.8,261.7 394.5,262.2C395.2,262.7 396.0,263.2 396.7,263.2C397.4,263.2 398.2,262.4 398.9,262.2C399.6,261.9 400.4,261.6 401.1,261.7C401.8,261.8 402.6,262.6 403.3,262.7C404.0,262.8 404.8,262.4 405.5,262.2C406.2,262.0 406.9,261.4 407.6,261.3C408.3,261.2 409.1,261.4 409.8,261.7C410.5,262.0 411.3,262.7 412.0,263.2C412.7,263.7 413.5,264.2 414.2,264.6C414.9,265.0 415.7,265.2 416.4,265.4C417.1,265.6 417.8,265.5 418.5,265.7C419.2,265.9 420.0,266.1 420.7,266.5C421.4,266.9 422.2,267.5 422.9,268.0C423.6,268.5 424.4,269.1 425.1,269.4C425.8,269.7 426.6,270.0 427.3,270.0C428.0,270.0 428.8,269.6 429.5,269.4C430.2,269.2 430.9,268.8 431.6,268.6C432.3,268.4 433.1,268.3 433.8,268.0C434.5,267.7 435.3,267.2 436.0,266.8C436.7,266.4 437.5,266.0 438.2,265.7C438.9,265.4 439.7,265.3 440.4,265.1C441.1,264.9 441.8,264.7 442.5,264.6C443.2,264.5 444.0,264.5 444.7,264.6C445.4,264.7 446.2,265.0 446.9,265.1C447.6,265.2 448.4,265.2 449.1,265.4C449.8,265.6 450.6,266.1 451.3,266.5C452.0,266.9 452.8,267.4 453.5,267.5C454.2,267.6 454.9,267.2 455.6,267.1C456.3,267.0 457.1,266.8 457.8,266.8C458.5,266.8 459.3,267.0 460.0,267.1C460.7,267.2 461.5,267.3 462.2,267.5C462.9,267.7 463.7,268.1 464.4,268.3C465.1,268.6 465.9,268.8 466.5,269.0C467.1,269.2 467.5,269.2 468.0,269.4C468.5,269.6 468.4,269.7 469.3,270.3C470.2,270.9 472.2,272.3 473.6,273.0C475.1,273.7 476.5,274.1 478.0,274.6C479.5,275.1 480.9,275.8 482.4,276.2C483.8,276.6 485.3,276.8 486.7,276.8C488.1,276.8 489.5,276.2 491.0,276.2C492.5,276.2 494.0,276.9 495.5,276.8C497.0,276.7 498.6,276.4 499.8,275.7C501.1,275.0 501.9,273.8 503.0,272.5C504.1,271.2 505.5,268.6 506.4,268.0C507.3,267.4 507.6,268.4 508.5,269.2C509.4,269.9 510.7,271.5 511.8,272.5C512.9,273.5 513.9,274.3 515.0,275.3C516.1,276.3 517.3,277.4 518.4,278.4C519.5,279.4 520.3,280.2 521.6,281.2C522.9,282.2 524.5,283.6 526.0,284.5C527.5,285.4 528.9,286.0 530.4,286.6C531.9,287.2 533.6,288.0 534.7,288.4C535.8,288.8 536.6,288.7 537.0,288.8"/>
<path stroke="#2a94d2" d="M71.5,173.0C72.2,172.8 74.3,171.4 75.5,171.6C76.7,171.8 77.6,174.1 78.7,174.2C79.8,174.3 80.9,172.2 82.0,172.0C83.1,171.8 84.2,173.3 85.3,173.0C86.4,172.7 87.4,170.5 88.5,170.3C89.6,170.1 90.7,171.2 91.8,171.6C92.9,172.0 93.9,172.6 95.0,173.0C96.1,173.4 97.3,174.6 98.4,174.2C99.5,173.8 100.5,171.2 101.6,170.3C102.7,169.4 104.0,169.7 105.0,168.7C106.0,167.7 106.7,164.9 107.5,164.4C108.3,163.9 109.0,165.8 109.7,165.5C110.4,165.2 110.8,162.6 111.5,162.8C112.2,163.0 112.8,165.5 113.6,166.5C114.4,167.5 115.4,168.1 116.3,168.7C117.2,169.3 118.0,170.7 119.0,170.3C120.0,169.9 121.3,167.8 122.4,166.5C123.5,165.2 124.6,163.6 125.6,162.2C126.6,160.8 127.6,158.4 128.5,157.8C129.4,157.2 130.1,159.2 131.0,158.5C131.9,157.8 132.8,154.8 133.7,153.5C134.6,152.2 135.6,150.8 136.5,150.6C137.4,150.4 138.5,151.4 139.4,152.4C140.3,153.4 141.0,155.1 142.0,156.7C143.0,158.3 144.3,160.6 145.3,162.2C146.3,163.8 147.2,165.1 148.0,166.1C148.8,167.1 149.5,167.3 150.2,168.0C150.9,168.7 151.7,169.6 152.4,170.2C153.1,170.8 153.8,171.0 154.5,171.6C155.2,172.2 155.8,173.3 156.4,173.8C157.0,174.3 157.5,174.1 158.2,174.5C158.9,174.9 159.8,176.1 160.4,176.0C161.0,175.9 161.3,174.5 161.8,173.8C162.3,173.1 162.8,172.2 163.3,171.6C163.8,171.0 164.1,170.6 164.7,170.5C165.3,170.4 166.2,171.5 166.9,171.3C167.6,171.1 168.4,170.3 169.1,169.5C169.8,168.7 170.6,167.3 171.3,166.5C172.0,165.7 172.8,164.9 173.5,164.4C174.2,163.9 174.7,163.5 175.3,163.6C175.9,163.7 176.4,164.5 177.1,165.1C177.8,165.7 178.6,166.5 179.3,167.3C180.0,168.2 180.8,169.4 181.5,170.2C182.2,171.0 182.9,171.8 183.6,171.9C184.3,172.0 185.1,170.4 185.8,170.5C186.5,170.6 187.3,172.0 188.0,172.4C188.7,172.8 189.5,173.2 190.2,173.1C190.9,173.0 191.7,172.1 192.4,171.6C193.1,171.1 193.8,170.6 194.5,170.2C195.2,169.8 196.0,169.2 196.7,169.0C197.4,168.8 198.2,168.9 198.9,168.7C199.6,168.5 200.4,168.2 201.1,168.0C201.8,167.8 202.6,167.8 203.3,167.3C204.0,166.8 204.9,165.7 205.5,165.1C206.1,164.5 206.3,163.5 206.9,163.6C207.5,163.7 208.2,164.8 208.8,165.5C209.5,166.2 210.2,167.3 210.8,168.0C211.5,168.7 212.1,169.5 212.7,169.9C213.3,170.3 214.0,170.3 214.6,170.2C215.2,170.0 215.8,169.3 216.4,169.0C217.1,168.7 217.8,168.7 218.5,168.4C219.2,168.1 220.0,167.5 220.7,167.0C221.4,166.5 222.2,165.8 222.9,165.5C223.6,165.2 224.2,165.0 225.1,165.1C225.9,165.2 227.0,165.9 228.0,166.1C229.0,166.3 229.9,166.0 230.9,166.3C231.9,166.6 232.8,167.5 233.8,168.0C234.8,168.5 235.7,169.1 236.7,169.2C237.7,169.3 238.6,169.1 239.6,168.5C240.6,167.9 241.7,166.7 242.5,165.5C243.3,164.3 244.0,162.3 244.7,161.2C245.4,160.1 246.2,159.3 246.9,158.7C247.6,158.1 248.4,157.4 249.1,157.5C249.8,157.6 250.6,158.9 251.3,159.0C252.0,159.1 252.8,158.7 253.5,158.3C254.2,157.9 254.8,157.5 255.6,156.8C256.4,156.2 257.2,155.3 258.0,154.4C258.8,153.5 259.5,152.4 260.2,151.5C260.9,150.6 261.7,149.4 262.4,149.0C263.1,148.6 263.8,149.6 264.5,149.3C265.2,149.0 266.0,147.9 266.7,147.1C267.4,146.2 268.3,145.2 268.9,144.2C269.5,143.2 269.8,143.0 270.4,141.3C271.0,139.6 271.9,135.8 272.5,134.0C273.1,132.2 273.5,131.4 274.0,130.4C274.5,129.4 274.9,128.7 275.5,128.2C276.1,127.7 276.9,127.2 277.6,127.2C278.3,127.2 278.9,128.3 279.5,128.2C280.1,128.1 280.5,126.6 281.0,126.7C281.5,126.8 282.2,128.2 282.7,128.6C283.2,129.0 283.6,129.6 284.2,129.2C284.8,128.8 285.7,127.0 286.4,126.3C287.1,125.6 287.9,124.9 288.5,125.0C289.1,125.1 289.8,125.8 290.3,126.7C290.8,127.6 291.1,128.7 291.7,130.4C292.2,132.1 293.0,134.7 293.6,136.9C294.2,139.1 294.5,141.2 295.1,143.5C295.7,145.8 296.6,148.5 297.3,150.7C298.0,152.9 298.8,154.8 299.5,156.5C300.2,158.2 300.8,159.6 301.6,160.9C302.4,162.2 303.5,163.7 304.5,164.5C305.5,165.3 306.6,165.6 307.5,166.0C308.4,166.4 308.9,166.2 309.6,166.7C310.3,167.2 311.0,167.9 311.8,168.9C312.6,169.9 313.6,171.4 314.7,172.5C315.8,173.6 317.2,174.8 318.3,175.3C319.4,175.8 320.0,174.9 321.0,175.3C322.0,175.7 323.2,176.8 324.2,177.5C325.2,178.2 326.1,178.8 327.0,179.6C327.9,180.4 328.7,181.9 329.6,182.5C330.5,183.1 331.4,183.2 332.3,183.4C333.2,183.7 334.1,183.5 335.0,184.0C335.9,184.5 337.1,185.5 338.0,186.2C338.9,186.9 339.7,187.8 340.5,188.4C341.3,189.0 342.2,189.5 342.9,190.0C343.5,190.5 343.9,191.1 344.4,191.5C344.9,191.9 345.3,192.2 345.8,192.2C346.3,192.1 346.7,191.5 347.3,191.2C347.9,190.9 348.8,190.3 349.5,190.4C350.2,190.5 350.9,191.0 351.6,191.5C352.3,192.0 353.1,192.9 353.8,193.6C354.5,194.3 355.3,195.7 356.0,195.8C356.7,195.9 357.5,194.9 358.2,194.4C358.9,193.9 359.7,192.7 360.4,192.6C361.1,192.5 361.8,193.5 362.5,194.1C363.2,194.7 364.0,195.4 364.7,196.1C365.4,196.8 366.2,197.3 366.9,198.0C367.6,198.7 368.4,199.5 369.1,200.2C369.8,200.9 370.7,201.9 371.3,202.4C371.9,202.9 372.1,203.4 372.7,203.4C373.3,203.4 374.2,202.7 374.9,202.4C375.6,202.2 376.4,202.1 377.1,201.9C377.8,201.7 378.6,201.3 379.3,201.3C380.0,201.3 380.8,201.9 381.5,201.9C382.2,201.9 382.9,201.5 383.6,201.3C384.3,201.1 385.1,200.8 385.8,200.9C386.5,201.1 387.3,201.8 388.0,202.2C388.7,202.6 389.5,203.0 390.2,203.6C390.9,204.2 391.7,205.2 392.4,205.8C393.1,206.4 393.8,206.9 394.5,207.0C395.2,207.1 396.0,206.3 396.7,206.5C397.4,206.7 398.2,207.5 398.9,208.0C399.6,208.5 400.4,209.4 401.1,209.5C401.8,209.6 402.6,208.9 403.3,208.7C404.0,208.4 404.8,208.2 405.5,208.0C406.2,207.8 406.9,207.4 407.6,207.3C408.3,207.2 409.1,207.5 409.8,207.6C410.5,207.7 411.3,207.8 412.0,208.0C412.7,208.2 413.5,208.5 414.2,209.0C414.9,209.5 415.7,210.2 416.4,210.9C417.1,211.6 417.8,212.4 418.5,213.1C419.2,213.8 420.0,214.2 420.7,214.8C421.4,215.4 422.2,216.1 422.9,216.7C423.6,217.3 424.4,218.2 425.1,218.6C425.8,219.0 426.6,219.2 427.3,219.2C428.0,219.2 428.8,218.5 429.5,218.6C430.2,218.7 430.9,219.3 431.6,219.6C432.3,219.8 433.1,220.2 433.8,220.1C434.5,220.0 435.3,219.4 436.0,218.9C436.7,218.4 437.5,217.7 438.2,217.2C438.9,216.7 439.7,215.9 440.4,215.7C441.1,215.5 441.8,215.8 442.5,216.0C443.2,216.2 444.0,216.5 444.7,216.7C445.4,216.9 446.2,217.3 446.9,217.2C447.6,217.1 448.4,216.5 449.1,216.3C449.8,216.2 450.6,216.2 451.3,216.3C452.0,216.5 452.8,216.9 453.5,217.2C454.2,217.5 454.9,217.9 455.6,218.2C456.3,218.5 457.1,218.8 457.8,218.9C458.5,219.0 459.3,218.7 460.0,218.6C460.7,218.5 461.5,218.0 462.2,218.2C462.9,218.4 463.7,219.0 464.4,219.6C465.1,220.2 465.9,221.2 466.5,221.8C467.1,222.4 467.5,223.1 468.0,223.3C468.5,223.5 468.4,222.8 469.3,223.0C470.2,223.2 472.3,223.8 473.6,224.5C474.9,225.2 475.9,226.4 477.0,227.3C478.1,228.2 479.1,229.6 480.2,230.0C481.3,230.4 482.4,229.2 483.5,229.5C484.6,229.8 485.6,231.8 486.7,232.0C487.8,232.2 489.1,231.3 490.0,231.0C490.9,230.7 491.3,230.1 492.2,230.3C493.1,230.6 494.4,232.2 495.5,232.5C496.6,232.8 497.8,231.9 498.7,232.0C499.6,232.1 500.3,233.9 501.0,233.2C501.7,232.5 502.1,229.4 503.0,227.7C503.9,226.0 505.3,224.0 506.4,223.0C507.5,222.0 508.5,221.3 509.6,221.6C510.7,221.8 511.9,223.5 513.0,224.5C514.1,225.5 515.1,226.6 516.2,227.7C517.3,228.8 518.4,229.7 519.5,231.0C520.6,232.3 521.6,234.1 522.7,235.4C523.8,236.7 524.7,237.5 526.0,238.6C527.3,239.7 528.9,241.1 530.4,242.0C531.9,242.9 533.6,243.6 534.7,244.0C535.8,244.4 536.6,244.6 537.0,244.7"/>
<path stroke="#f27c54" d="M71.5,160.0C72.0,159.6 73.6,158.0 74.4,157.8C75.2,157.6 75.7,158.5 76.5,159.0C77.3,159.5 78.4,161.0 79.2,161.0C80.0,161.0 80.6,158.8 81.3,159.0C82.0,159.2 82.8,162.4 83.5,162.2C84.2,162.0 85.0,158.9 85.7,157.8C86.5,156.7 87.3,155.6 88.0,155.6C88.7,155.6 89.3,157.7 90.0,157.8C90.7,157.9 91.5,156.2 92.3,156.3C93.1,156.4 94.0,158.2 95.0,158.5C96.0,158.8 97.3,157.7 98.4,157.8C99.5,157.9 100.5,159.2 101.6,159.0C102.7,158.8 104.0,157.2 105.0,156.3C106.0,155.4 106.6,154.3 107.5,153.5C108.4,152.7 109.5,151.5 110.4,151.3C111.4,151.1 112.3,151.7 113.2,152.4C114.1,153.1 114.9,154.7 115.8,155.6C116.7,156.5 117.5,157.1 118.4,157.8C119.3,158.5 120.4,160.0 121.3,160.0C122.2,160.0 123.0,158.5 124.0,157.8C125.0,157.1 126.2,156.5 127.2,155.6C128.2,154.7 129.0,153.4 130.0,152.4C131.0,151.4 132.2,150.6 133.3,149.7C134.4,148.8 135.5,147.0 136.5,147.0C137.5,147.0 138.5,148.8 139.4,149.7C140.3,150.6 141.0,151.4 142.0,152.4C143.0,153.4 144.2,154.6 145.3,155.6C146.4,156.6 147.6,157.7 148.5,158.5C149.4,159.3 150.0,160.0 150.9,160.7C151.8,161.4 152.8,161.9 153.8,162.6C154.8,163.3 155.7,164.4 156.7,165.1C157.7,165.8 158.8,166.5 159.6,167.0C160.4,167.5 160.9,168.4 161.4,168.0C161.9,167.6 162.1,165.3 162.5,164.4C162.9,163.5 163.5,162.7 164.0,162.6C164.5,162.5 165.1,163.8 165.7,163.6C166.3,163.4 166.9,162.3 167.6,161.7C168.3,161.1 169.2,160.8 169.8,160.0C170.5,159.2 170.7,157.9 171.5,157.2C172.3,156.5 173.6,155.5 174.7,155.6C175.8,155.7 177.0,157.1 178.0,157.8C179.0,158.5 179.9,159.3 180.7,160.0C181.5,160.7 182.2,161.6 182.9,161.7C183.6,161.8 184.4,160.4 185.1,160.7C185.8,160.9 186.4,162.9 187.0,163.2C187.6,163.5 188.1,163.1 188.7,162.6C189.3,162.1 189.8,160.3 190.5,160.0C191.2,159.7 191.8,160.9 192.6,160.7C193.4,160.5 194.5,159.2 195.5,159.0C196.5,158.8 197.6,159.8 198.7,159.4C199.8,159.0 201.0,157.7 202.0,156.7C203.0,155.7 203.9,154.4 204.8,153.5C205.7,152.6 206.6,151.1 207.5,151.3C208.4,151.5 209.1,153.4 210.0,154.5C210.9,155.6 212.0,157.4 213.0,157.8C214.0,158.2 215.1,157.7 216.2,157.2C217.3,156.7 218.4,155.8 219.5,155.0C220.6,154.2 221.6,152.8 222.7,152.4C223.8,152.0 225.1,152.8 226.0,152.8C226.9,152.8 227.2,152.4 228.0,152.5C228.8,152.6 230.1,153.2 230.9,153.2C231.8,153.2 232.4,152.4 233.1,152.5C233.8,152.6 234.5,153.4 235.3,153.9C236.2,154.4 237.3,155.4 238.2,155.4C239.0,155.4 239.7,154.8 240.4,153.9C241.1,153.1 241.8,151.5 242.5,150.3C243.2,149.1 244.0,147.7 244.7,146.6C245.4,145.5 246.2,144.7 246.9,143.7C247.6,142.7 248.4,141.5 249.1,140.8C249.8,140.1 250.7,139.5 251.3,139.4C251.9,139.3 252.1,140.3 252.7,140.1C253.3,139.8 254.2,138.6 254.9,137.9C255.6,137.2 256.4,136.5 257.1,135.7C257.8,134.8 258.6,133.8 259.3,132.8C260.0,131.8 260.9,130.8 261.5,129.9C262.1,129.1 262.4,127.9 262.9,127.7C263.4,127.5 264.0,128.7 264.4,128.5C264.8,128.3 265.0,127.6 265.5,126.3C266.0,125.0 266.8,121.8 267.5,120.7C268.2,119.6 269.4,120.6 270.0,119.4C270.6,118.2 270.9,115.7 271.3,113.7C271.7,111.7 272.1,109.1 272.6,107.2C273.1,105.3 273.9,103.5 274.5,102.1C275.1,100.7 275.8,99.6 276.4,98.9C277.0,98.2 277.6,98.1 278.3,98.0C279.1,97.9 280.0,98.3 280.9,98.5C281.8,98.7 282.8,99.1 283.5,98.9C284.2,98.8 284.8,98.3 285.4,97.6C286.0,96.8 286.6,95.2 287.3,94.4C288.0,93.6 288.8,92.6 289.3,92.5C289.8,92.4 290.1,92.6 290.5,93.8C290.9,95.0 291.4,97.0 291.8,99.5C292.2,102.0 292.7,105.7 293.1,108.5C293.5,111.3 294.0,114.0 294.4,116.2C294.8,118.4 295.3,119.8 295.7,121.4C296.1,123.0 296.3,125.1 296.7,126.0C297.1,126.9 297.4,126.1 297.8,127.0C298.2,127.9 298.8,130.0 299.3,131.4C299.8,132.8 300.2,134.2 300.7,135.7C301.2,137.1 301.7,138.8 302.2,140.1C302.7,141.4 303.1,142.6 303.6,143.7C304.1,144.8 304.6,145.5 305.1,146.6C305.6,147.7 306.0,149.9 306.5,150.3C307.0,150.7 307.4,149.0 308.0,148.8C308.6,148.6 309.3,148.1 310.0,149.0C310.7,149.9 311.4,152.9 312.2,154.5C313.0,156.1 313.9,157.4 314.8,158.5C315.7,159.6 316.6,160.5 317.6,161.0C318.6,161.5 319.9,161.1 321.0,161.5C322.1,161.9 323.2,162.8 324.2,163.3C325.2,163.8 326.1,164.4 327.0,164.4C327.9,164.4 328.7,163.1 329.6,163.3C330.5,163.5 331.4,164.6 332.3,165.5C333.2,166.4 334.1,167.6 335.0,168.7C335.9,169.8 337.1,170.9 338.0,172.0C338.9,173.1 339.5,174.6 340.5,175.3C341.5,176.0 342.7,176.4 343.8,176.4C344.9,176.4 345.9,175.7 347.0,175.3C348.1,174.9 349.3,174.2 350.4,174.2C351.5,174.2 352.6,174.7 353.6,175.3C354.6,175.9 355.5,177.8 356.3,178.0C357.1,178.2 357.6,176.1 358.4,176.4C359.2,176.7 360.4,178.7 361.3,179.6C362.2,180.5 363.0,181.1 364.0,181.8C365.0,182.5 366.2,183.4 367.2,184.0C368.2,184.6 369.1,184.7 370.0,185.5C370.9,186.3 371.9,188.6 372.8,189.0C373.7,189.4 374.5,188.2 375.5,187.7C376.5,187.2 377.6,186.6 378.7,186.2C379.8,185.8 380.9,185.8 382.0,185.5C383.1,185.2 384.3,184.6 385.3,184.7C386.3,184.8 387.1,185.6 388.0,186.2C388.9,186.8 389.7,187.7 390.7,188.4C391.7,189.1 392.9,189.7 394.0,190.5C395.1,191.3 396.3,192.8 397.3,193.4C398.3,194.0 399.1,193.9 400.0,193.8C400.9,193.7 401.7,193.1 402.7,192.7C403.7,192.3 404.9,191.6 406.0,191.2C407.1,190.8 408.3,190.4 409.3,190.5C410.3,190.6 411.1,191.0 412.0,191.6C412.9,192.2 413.9,193.2 414.7,193.8C415.5,194.4 416.1,194.0 417.0,195.0C417.9,196.0 419.1,198.9 420.0,200.0C420.9,201.1 421.3,201.3 422.2,201.7C423.1,202.1 424.1,202.3 425.1,202.6C426.1,202.9 427.0,203.2 428.0,203.6C429.0,203.9 429.9,204.4 430.9,204.7C431.9,204.9 432.8,205.1 433.8,205.1C434.8,205.1 435.7,204.8 436.7,204.7C437.7,204.6 438.6,204.3 439.6,204.4C440.6,204.5 441.5,204.9 442.5,205.1C443.5,205.3 444.5,205.7 445.5,205.8C446.5,205.9 447.4,205.6 448.4,205.5C449.4,205.4 450.3,205.1 451.3,205.1C452.3,205.1 453.2,205.3 454.2,205.5C455.2,205.7 456.1,205.9 457.1,206.1C458.1,206.3 459.0,206.5 460.0,206.5C461.0,206.5 462.0,206.0 462.9,206.1C463.8,206.2 464.2,206.8 465.1,207.3C466.0,207.8 466.9,208.2 468.0,209.0C469.1,209.8 470.2,210.9 471.5,212.0C472.8,213.1 474.4,214.8 475.8,215.7C477.2,216.6 478.8,216.6 480.2,217.3C481.6,218.0 483.0,219.7 484.5,220.0C486.0,220.3 487.5,219.3 489.0,219.4C490.5,219.5 491.9,220.1 493.3,220.7C494.7,221.3 496.3,222.6 497.6,223.0C498.9,223.4 499.9,224.4 501.0,223.4C502.1,222.4 503.1,218.7 504.2,216.8C505.3,214.9 506.2,213.0 507.5,212.0C508.8,211.0 510.6,210.7 511.8,210.7C513.0,210.7 513.9,211.3 515.0,212.0C516.1,212.7 517.3,213.4 518.4,214.6C519.5,215.8 520.3,217.3 521.6,219.0C522.9,220.7 524.5,222.9 526.0,224.5C527.5,226.1 528.9,227.6 530.4,228.8C531.9,230.1 533.6,231.4 534.7,232.0C535.8,232.6 536.6,232.4 537.0,232.5"/>
<path stroke="#8cc050" d="M70.9,214.5C71.2,214.1 72.2,212.7 72.8,211.9C73.4,211.1 74.0,210.2 74.6,209.6C75.2,209.0 75.8,208.8 76.4,208.4C77.0,208.0 77.7,207.7 78.3,207.2C78.9,206.7 79.6,205.9 80.1,205.5C80.5,205.1 80.6,204.7 81.0,204.8C81.4,204.9 81.9,206.1 82.4,206.2C82.9,206.3 83.3,205.6 83.8,205.3C84.2,205.0 84.6,204.3 85.1,204.4C85.5,204.5 86.0,205.6 86.5,205.7C87.0,205.8 87.4,205.1 87.9,205.0C88.4,204.9 88.8,205.1 89.3,205.3C89.8,205.5 90.2,206.0 90.6,206.4C91.0,206.8 91.2,207.8 91.6,207.8C92.0,207.8 92.5,206.3 92.9,206.2C93.4,206.0 93.8,206.9 94.3,206.9C94.8,206.9 95.2,206.4 95.7,206.0C96.2,205.6 96.9,205.1 97.5,204.6C98.1,204.1 98.8,203.8 99.4,203.2C100.0,202.6 100.8,201.4 101.2,200.9C101.7,200.4 101.4,200.6 102.1,200.0C102.8,199.4 104.2,198.2 105.1,197.3C106.0,196.4 106.9,195.4 107.6,194.4C108.3,193.4 109.0,192.2 109.5,191.5C110.0,190.8 109.9,191.1 110.5,190.0C111.1,188.9 112.4,185.1 113.2,184.7C114.0,184.2 114.7,186.2 115.4,187.3C116.1,188.5 116.8,191.4 117.6,191.6C118.4,191.8 119.3,190.0 120.2,188.4C121.1,186.8 121.9,184.4 122.8,181.8C123.7,179.2 124.6,175.7 125.6,173.0C126.5,170.3 127.6,167.8 128.5,165.5C129.4,163.2 130.1,161.2 131.0,159.0C131.9,156.8 132.8,154.5 133.7,152.4C134.6,150.3 135.7,146.6 136.5,146.3C137.3,146.0 137.9,149.1 138.7,150.6C139.4,152.1 140.2,153.7 141.0,155.6C141.8,157.5 142.8,159.9 143.7,162.2C144.6,164.5 145.7,167.8 146.4,169.4C147.1,171.0 147.4,170.5 148.0,171.6C148.6,172.7 149.5,174.5 150.2,176.0C150.9,177.5 151.7,179.0 152.4,180.4C153.1,181.8 153.8,183.4 154.5,184.7C155.2,186.0 155.8,187.6 156.4,188.4C157.0,189.2 157.5,190.1 158.2,189.8C158.9,189.6 159.7,187.7 160.4,186.9C161.1,186.1 161.8,185.6 162.5,185.0C163.2,184.4 164.0,183.8 164.7,183.3C165.4,182.8 166.2,182.2 166.9,181.8C167.6,181.4 168.4,181.8 169.1,181.1C169.8,180.4 170.7,178.6 171.3,177.5C172.0,176.4 172.5,175.1 173.0,174.5C173.5,173.9 173.9,173.6 174.5,173.8C175.1,174.1 175.7,175.0 176.4,176.0C177.1,177.0 177.8,178.4 178.5,179.6C179.2,180.8 180.0,182.1 180.7,183.3C181.4,184.5 182.2,186.1 182.9,186.9C183.6,187.8 184.4,188.3 185.1,188.4C185.8,188.5 186.6,187.6 187.3,187.6C188.0,187.6 188.8,188.2 189.5,188.4C190.2,188.7 190.7,189.3 191.3,189.1C191.9,188.8 192.4,187.9 193.1,186.9C193.8,185.9 194.6,184.4 195.3,183.3C196.0,182.2 196.8,180.8 197.5,180.1C198.2,179.4 198.6,178.9 199.2,179.2C199.8,179.5 200.5,181.2 201.1,181.8C201.7,182.4 202.3,183.2 203.0,183.0C203.7,182.8 204.3,181.0 205.0,180.4C205.7,179.8 206.3,179.1 206.9,179.2C207.5,179.3 208.2,180.2 208.8,181.1C209.4,182.0 209.8,183.6 210.5,184.7C211.2,185.8 212.0,186.8 212.7,187.6C213.4,188.4 214.2,189.3 214.9,189.8C215.6,190.3 216.4,190.8 217.1,190.8C217.8,190.8 218.6,190.2 219.3,189.8C220.0,189.4 220.8,188.8 221.5,188.4C222.2,188.0 222.9,187.6 223.6,187.3C224.3,187.1 225.1,187.1 225.8,186.9C226.5,186.7 227.2,185.2 228.0,186.2C228.8,187.2 229.9,191.5 230.9,192.9C231.9,194.3 232.8,193.9 233.8,194.4C234.8,194.9 235.8,195.6 236.7,195.8C237.5,196.0 238.2,196.0 238.9,195.5C239.6,195.0 240.5,193.8 241.1,192.9C241.7,192.0 242.0,190.8 242.5,190.0C243.0,189.2 243.5,188.7 244.0,188.3C244.5,187.9 245.2,187.4 245.7,187.4C246.2,187.4 246.8,188.1 247.2,188.5C247.6,188.9 247.8,189.5 248.4,190.0C249.0,190.5 249.8,191.1 250.5,191.5C251.2,191.9 252.1,191.7 252.7,192.2C253.3,192.7 253.7,193.6 254.2,194.4C254.7,195.2 255.1,196.6 255.6,197.3C256.1,198.0 256.5,198.6 257.1,198.7C257.7,198.8 258.6,198.4 259.3,198.0C260.0,197.6 260.8,196.9 261.5,196.5C262.2,196.1 263.0,195.6 263.6,195.8C264.2,196.1 264.6,197.3 265.1,198.0C265.6,198.7 265.9,199.5 266.5,199.9C267.1,200.3 268.0,200.4 268.7,200.2C269.4,200.0 270.3,199.4 270.9,198.7C271.5,198.0 271.9,196.8 272.4,195.8C272.9,194.8 273.3,193.6 273.8,192.9C274.3,192.2 274.8,191.6 275.3,191.5C275.8,191.4 276.2,191.7 276.7,192.2C277.2,192.7 277.6,193.7 278.2,194.4C278.8,195.1 279.7,195.8 280.4,196.5C281.1,197.2 281.8,198.1 282.5,198.7C283.2,199.3 284.0,199.6 284.7,199.9C285.4,200.2 286.2,200.3 286.9,200.5C287.6,200.7 288.4,200.7 289.1,200.9C289.8,201.1 290.6,201.1 291.3,201.6C292.0,202.1 292.8,203.1 293.5,203.8C294.2,204.5 294.9,205.4 295.6,206.0C296.3,206.6 297.1,207.4 297.8,207.5C298.5,207.6 299.4,206.6 300.0,206.7C300.6,206.8 300.9,207.7 301.5,208.2C302.1,208.7 302.9,209.2 303.6,209.6C304.3,210.0 305.1,210.9 305.8,210.4C306.5,209.9 307.4,207.8 308.0,206.7C308.6,205.6 309.0,204.0 309.5,203.8C310.0,203.6 310.4,204.6 310.9,205.3C311.4,206.0 311.8,207.3 312.4,208.2C313.0,209.0 313.8,209.7 314.5,210.4C315.2,211.1 316.0,211.9 316.7,212.5C317.4,213.1 318.2,213.6 318.9,214.0C319.6,214.4 320.4,214.5 321.1,214.7C321.8,214.9 322.6,214.8 323.3,215.0C324.0,215.2 324.8,215.6 325.5,215.9C326.2,216.2 326.9,216.5 327.6,216.9C328.3,217.3 329.1,218.2 329.8,218.4C330.5,218.7 331.3,218.7 332.0,218.4C332.7,218.2 333.6,217.0 334.2,216.9C334.8,216.8 335.0,217.1 335.6,217.6C336.2,218.1 337.1,219.1 337.8,219.8C338.5,220.5 339.3,221.3 340.0,222.0C340.7,222.7 341.5,223.5 342.2,224.2C342.9,224.9 343.7,225.5 344.4,226.1C345.1,226.7 345.8,227.2 346.5,227.5C347.2,227.8 348.0,228.0 348.7,228.1C349.4,228.2 350.2,227.8 350.9,227.8C351.6,227.8 352.4,228.0 353.1,228.1C353.8,228.2 354.6,228.6 355.3,228.5C356.0,228.4 356.8,228.2 357.5,227.8C358.2,227.5 358.9,226.5 359.6,226.4C360.3,226.3 361.1,226.6 361.8,227.1C362.5,227.6 363.3,228.6 364.0,229.3C364.7,230.0 365.5,230.8 366.2,231.5C366.9,232.2 367.7,232.9 368.4,233.6C369.1,234.2 369.8,234.8 370.5,235.4C371.2,236.0 372.0,236.9 372.7,237.3C373.4,237.7 374.2,237.8 374.9,238.0C375.6,238.2 376.4,238.3 377.1,238.3C377.8,238.3 378.6,238.1 379.3,238.0C380.0,237.9 380.8,237.8 381.5,237.7C382.2,237.6 382.9,237.5 383.6,237.3C384.3,237.1 385.1,236.5 385.8,236.3C386.5,236.2 387.4,236.0 388.0,236.4C388.6,236.8 389.0,237.8 389.5,238.5C390.0,239.2 390.3,240.0 390.9,240.7C391.5,241.4 392.4,242.1 393.1,242.5C393.8,242.9 394.6,242.7 395.3,242.9C396.0,243.1 396.8,243.3 397.5,243.6C398.2,243.9 398.9,244.7 399.6,244.8C400.3,244.9 401.1,244.7 401.8,244.4C402.5,244.2 403.3,243.6 404.0,243.3C404.7,243.1 405.5,242.9 406.2,242.9C406.9,242.9 407.7,243.3 408.4,243.6C409.1,243.8 409.8,244.2 410.5,244.4C411.2,244.7 412.0,244.9 412.7,245.1C413.4,245.3 414.2,245.5 414.9,245.8C415.6,246.1 416.4,246.4 417.1,246.8C417.8,247.2 418.6,247.6 419.3,248.0C420.0,248.4 420.8,248.8 421.5,249.2C422.2,249.6 422.9,250.2 423.6,250.6C424.3,251.0 425.1,251.5 425.8,251.6C426.5,251.7 427.3,251.5 428.0,251.2C428.7,250.9 429.5,250.0 430.2,249.7C430.9,249.4 431.7,249.4 432.4,249.2C433.1,249.0 433.8,248.8 434.5,248.7C435.2,248.5 436.0,248.5 436.7,248.3C437.4,248.1 438.2,247.7 438.9,247.3C439.6,246.9 440.4,246.2 441.1,245.8C441.8,245.4 442.6,245.0 443.3,244.8C444.0,244.6 444.8,244.6 445.5,244.4C446.2,244.2 446.9,244.2 447.6,243.9C448.3,243.7 449.2,243.2 449.8,242.9C450.4,242.6 450.8,242.1 451.3,242.2C451.8,242.3 452.2,243.1 452.7,243.6C453.2,244.1 453.7,244.9 454.2,245.4C454.7,245.9 455.1,246.7 455.6,246.8C456.1,247.0 456.5,246.7 457.1,246.3C457.7,245.9 458.7,244.8 459.3,244.4C459.9,244.0 460.2,243.8 460.7,243.9C461.2,244.0 461.7,244.6 462.2,244.8C462.7,245.1 463.0,245.0 463.6,245.4C464.2,245.8 465.1,246.7 465.8,247.3C466.5,247.9 467.4,248.6 468.0,249.2C468.6,249.8 468.4,249.8 469.3,250.6C470.2,251.4 472.2,253.0 473.6,254.0C475.1,255.0 476.5,256.2 478.0,256.5C479.5,256.8 480.9,255.8 482.4,256.0C483.8,256.2 485.3,257.7 486.7,257.8C488.1,257.9 489.5,256.7 491.0,256.5C492.5,256.3 494.0,256.8 495.5,256.7C497.0,256.6 498.6,257.0 499.8,256.0C501.1,255.0 502.1,252.3 503.0,250.6C503.9,248.9 504.6,246.8 505.3,245.6C506.1,244.4 506.8,243.3 507.5,243.4C508.2,243.5 508.9,244.7 509.6,246.3C510.3,247.9 510.9,251.0 511.8,252.8C512.7,254.6 513.9,255.9 515.0,257.2C516.1,258.5 517.3,259.2 518.4,260.5C519.5,261.8 520.5,263.4 521.6,264.8C522.7,266.2 523.9,268.1 525.0,269.2C526.1,270.3 527.0,271.0 528.2,271.4C529.5,271.8 531.0,271.4 532.5,271.4C534.0,271.4 536.2,271.4 537.0,271.4"/>
<path stroke="#f7c54c" d="M71.2,127.1C71.5,126.8 72.5,125.6 73.1,125.2C73.6,124.8 74.0,124.3 74.5,124.5C75.0,124.7 75.5,125.8 76.0,126.2C76.5,126.6 77.0,126.8 77.5,127.1C78.0,127.3 78.7,127.3 79.3,127.7C79.9,128.1 80.6,129.1 81.1,129.5C81.6,129.9 81.9,130.8 82.3,130.3C82.7,129.8 83.2,127.6 83.7,126.6C84.2,125.6 84.7,124.6 85.2,124.5C85.7,124.4 86.1,126.3 86.6,125.9C87.1,125.5 87.9,123.0 88.4,122.3C88.9,121.6 89.3,121.7 89.8,121.8C90.3,121.9 90.8,122.9 91.3,123.0C91.8,123.1 92.1,122.0 92.7,122.3C93.3,122.5 94.2,123.8 94.9,124.5C95.6,125.2 96.4,125.9 97.1,126.6C97.8,127.3 98.2,128.2 98.8,128.5C99.4,128.8 100.1,128.2 100.7,128.1C101.3,128.0 102.0,127.6 102.6,127.7C103.2,127.8 103.9,128.8 104.4,128.5C104.9,128.2 105.3,126.1 105.8,125.9C106.3,125.7 106.8,127.5 107.3,127.1C107.8,126.7 108.4,124.3 109.0,123.7C109.6,123.1 110.3,123.2 110.9,123.3C111.5,123.4 112.2,123.7 112.8,124.5C113.4,125.3 113.8,126.9 114.3,128.1C114.8,129.3 115.4,130.6 116.0,131.7C116.6,132.8 117.2,134.3 117.7,134.6C118.2,134.8 118.6,133.2 119.2,133.2C119.8,133.1 120.4,134.0 121.1,134.3C121.8,134.6 122.6,134.7 123.3,134.9C124.0,135.2 124.8,135.7 125.5,135.8C126.2,135.9 126.9,135.4 127.6,135.4C128.3,135.4 129.1,135.6 129.8,135.8C130.5,136.0 131.3,136.5 132.0,136.8C132.7,137.1 133.5,137.7 134.2,137.5C134.9,137.3 135.7,136.0 136.4,135.4C137.1,134.8 137.8,133.8 138.5,133.9C139.2,134.0 140.0,135.5 140.7,136.1C141.4,136.7 142.2,137.4 142.9,137.5C143.6,137.6 144.2,137.0 145.1,136.8C145.9,136.6 147.2,135.5 148.0,136.1C148.8,136.7 148.8,139.3 149.6,140.4C150.4,141.5 151.9,141.8 153.0,142.5C154.1,143.2 155.2,143.9 156.2,144.7C157.2,145.4 158.1,147.2 159.0,147.0C159.9,146.8 160.6,144.3 161.6,143.6C162.6,142.8 163.9,143.0 165.0,142.5C166.1,142.0 167.1,141.3 168.2,140.4C169.2,139.5 170.4,137.9 171.3,136.8C172.2,135.7 172.8,134.3 173.5,133.9C174.2,133.5 174.9,134.1 175.6,134.3C176.3,134.6 177.1,135.0 177.8,135.4C178.5,135.8 179.3,136.5 180.0,136.8C180.7,137.1 181.5,137.4 182.2,137.3C182.9,137.2 183.7,136.1 184.4,136.1C185.1,136.1 185.8,137.4 186.5,137.5C187.2,137.6 188.0,136.8 188.7,136.4C189.4,136.0 190.2,134.7 190.9,134.9C191.6,135.1 192.3,136.6 193.1,137.5C193.9,138.4 194.6,140.1 195.5,140.4C196.4,140.7 197.8,139.8 198.7,139.3C199.6,138.8 200.3,138.3 201.1,137.5C201.9,136.7 202.6,135.6 203.3,134.6C204.0,133.6 204.8,132.4 205.5,131.7C206.2,131.0 206.9,130.7 207.6,130.6C208.3,130.5 209.1,130.9 209.8,131.0C210.5,131.1 211.3,131.5 212.0,131.4C212.7,131.3 213.5,130.6 214.2,130.3C214.9,130.0 215.7,129.4 216.4,129.5C217.1,129.6 217.8,130.5 218.5,130.6C219.2,130.7 220.0,130.3 220.7,130.0C221.4,129.7 222.3,129.5 222.9,128.8C223.5,128.1 223.9,126.6 224.4,125.9C224.9,125.2 225.2,124.7 225.8,124.7C226.4,124.7 227.1,125.9 228.0,125.9C228.9,126.0 230.4,125.5 231.5,125.0C232.6,124.5 233.7,122.9 234.7,123.0C235.7,123.1 236.7,125.7 237.6,125.7C238.5,125.7 239.2,124.3 240.2,123.0C241.2,121.7 242.4,119.7 243.5,118.0C244.6,116.3 245.6,114.5 246.7,113.0C247.8,111.5 248.9,110.1 250.0,108.7C251.1,107.3 252.4,105.9 253.3,104.4C254.2,103.0 254.7,101.5 255.5,100.0C256.3,98.5 257.1,97.0 258.0,95.5C258.9,94.0 260.1,92.8 261.0,91.2C261.9,89.6 262.8,87.7 263.7,85.7C264.6,83.7 265.6,81.2 266.4,79.2C267.2,77.2 267.9,75.0 268.5,73.5C269.1,72.0 269.4,72.1 270.0,70.0C270.6,67.9 271.4,63.5 272.0,61.0C272.6,58.5 273.3,56.9 273.9,54.7C274.5,52.5 275.2,49.2 275.8,47.6C276.4,46.0 277.1,45.2 277.7,45.0C278.3,44.8 278.9,45.8 279.6,46.3C280.4,46.8 281.4,48.0 282.2,48.0C282.9,48.0 283.5,47.5 284.1,46.3C284.7,45.0 285.5,42.3 286.0,40.5C286.5,38.7 286.9,36.6 287.3,35.4C287.7,34.2 288.2,33.4 288.6,33.2C289.0,33.0 289.5,33.3 289.9,34.0C290.3,34.7 290.7,35.3 291.2,37.3C291.7,39.2 292.6,42.6 293.1,45.7C293.6,48.8 294.0,52.4 294.4,56.0C294.8,59.6 295.3,63.5 295.7,67.5C296.1,71.5 296.5,76.7 297.0,80.3C297.5,83.9 298.3,86.7 298.9,89.3C299.5,91.9 300.1,93.7 300.8,95.7C301.5,97.7 302.2,99.6 302.8,101.5C303.4,103.4 304.2,105.4 304.7,107.2C305.2,109.0 305.6,111.2 306.0,112.4C306.4,113.6 306.8,114.1 307.2,114.3C307.6,114.5 308.1,113.4 308.5,113.7C308.9,114.0 309.4,115.2 309.8,116.2C310.2,117.2 310.6,118.3 311.1,119.4C311.6,120.5 312.4,122.4 313.0,122.7C313.6,123.0 314.4,121.3 315.0,121.4C315.6,121.5 316.2,122.8 316.9,123.3C317.6,123.8 318.3,123.9 319.2,124.4C320.1,124.9 321.1,125.4 322.0,126.2C322.9,127.0 323.9,128.5 324.8,129.5C325.7,130.5 326.6,131.8 327.5,132.3C328.4,132.8 329.1,132.1 330.0,132.7C330.9,133.3 332.1,135.0 333.0,136.0C333.9,137.0 334.8,138.2 335.7,138.8C336.6,139.4 337.5,139.3 338.4,139.3C339.3,139.3 340.1,138.5 341.0,138.8C341.9,139.1 342.9,140.5 343.8,141.0C344.8,141.5 345.8,141.9 346.7,142.0C347.6,142.1 348.3,141.1 349.3,141.5C350.3,141.9 351.4,143.8 352.5,144.7C353.6,145.6 354.7,146.7 355.8,147.0C356.9,147.3 357.9,146.2 359.0,146.3C360.1,146.4 361.3,147.0 362.4,147.6C363.5,148.2 364.6,148.7 365.6,149.7C366.6,150.7 367.6,152.2 368.5,153.5C369.4,154.8 370.1,156.7 371.0,157.2C371.9,157.7 372.8,156.8 373.7,156.3C374.6,155.9 375.6,155.0 376.5,154.5C377.4,154.0 378.5,153.3 379.4,153.5C380.3,153.7 381.0,155.4 382.0,155.6C383.0,155.8 384.3,154.0 385.3,154.5C386.3,155.0 387.0,157.6 388.0,158.5C389.0,159.4 390.2,159.9 391.2,160.0C392.2,160.1 393.0,159.0 394.0,159.0C395.0,159.0 396.2,159.7 397.3,160.0C398.4,160.3 399.4,160.5 400.5,160.7C401.6,160.9 402.7,161.1 403.8,161.0C404.9,160.9 406.0,160.5 407.0,160.0C408.0,159.5 409.2,158.3 410.0,157.8C410.8,157.3 411.3,156.5 412.0,157.2C412.7,157.9 413.5,160.8 414.3,162.2C415.1,163.6 416.0,164.6 417.0,165.5C418.0,166.4 419.1,166.8 420.2,167.6C421.3,168.4 422.4,169.0 423.5,170.3C424.6,171.6 425.6,174.1 426.7,175.3C427.8,176.5 428.9,177.4 430.0,177.5C431.1,177.6 432.2,176.5 433.3,176.0C434.4,175.5 435.5,174.7 436.5,174.6C437.5,174.5 438.3,174.8 439.2,175.3C440.1,175.8 441.0,177.1 442.0,177.5C443.0,177.9 444.2,177.7 445.3,178.0C446.4,178.3 447.5,178.8 448.5,179.6C449.5,180.4 450.5,182.4 451.4,183.0C452.3,183.6 453.1,183.6 454.0,183.4C454.9,183.2 455.7,181.9 456.6,181.8C457.5,181.7 458.6,183.0 459.5,183.0C460.4,183.0 461.4,181.5 462.3,181.8C463.2,182.1 464.1,184.7 465.0,185.0C465.9,185.3 466.6,183.6 467.5,183.4C468.4,183.2 469.4,183.3 470.4,184.0C471.4,184.7 472.5,186.2 473.6,187.3C474.7,188.4 476.0,189.4 477.0,190.5C478.0,191.6 479.0,193.1 479.7,193.8C480.4,194.6 480.4,194.6 481.3,195.0C482.2,195.4 483.6,196.2 485.0,196.5C486.4,196.8 488.2,196.7 490.0,197.0C491.8,197.3 493.8,198.3 495.5,198.3C497.2,198.3 498.8,197.5 500.0,197.0C501.2,196.5 502.1,195.8 503.0,195.5C503.9,195.2 504.6,195.7 505.3,195.0C506.1,194.3 506.7,192.7 507.5,191.2C508.3,189.7 509.4,187.5 510.3,186.2C511.2,184.9 512.1,183.8 513.0,183.4C513.9,183.0 514.6,183.5 515.5,184.0C516.4,184.5 517.4,185.3 518.4,186.2C519.4,187.1 520.4,188.3 521.2,189.5C522.0,190.7 522.9,192.5 523.4,193.4C523.9,194.3 523.9,193.8 524.5,195.0C525.1,196.2 526.0,198.9 527.0,200.5C528.0,202.1 529.3,203.5 530.4,204.8C531.5,206.1 532.7,207.7 533.6,208.5C534.5,209.3 535.2,209.7 535.8,209.8C536.4,209.9 536.8,209.3 537.0,209.2"/>
<path stroke="#b464c0" d="M71.2,117.2C71.6,117.1 73.1,117.1 73.8,116.5C74.5,115.9 75.0,113.2 75.6,113.5C76.2,113.8 76.8,117.6 77.5,118.6C78.2,119.6 78.9,119.5 79.6,119.4C80.3,119.4 81.2,118.4 81.8,118.3C82.4,118.2 82.7,119.3 83.3,118.6C83.9,117.9 84.6,114.6 85.2,114.3C85.8,114.0 86.4,116.4 86.9,116.5C87.4,116.6 87.9,114.9 88.4,115.0C88.9,115.1 89.3,117.2 89.8,117.2C90.3,117.2 90.8,115.1 91.3,115.0C91.8,114.9 92.2,116.4 92.7,116.5C93.2,116.6 93.6,115.7 94.2,115.4C94.8,115.2 95.7,115.2 96.4,115.0C97.1,114.8 97.8,114.4 98.5,114.3C99.2,114.2 100.0,114.9 100.7,114.6C101.4,114.3 102.2,113.3 102.9,112.5C103.6,111.7 104.4,110.7 105.1,109.9C105.8,109.1 106.7,108.6 107.3,107.7C107.9,106.8 108.2,105.7 108.7,104.8C109.2,103.9 109.9,102.4 110.5,102.3C111.1,102.2 111.9,103.2 112.4,104.1C113.0,105.0 113.2,106.4 113.8,107.7C114.3,109.0 115.1,111.0 115.7,112.1C116.3,113.2 116.8,114.3 117.5,114.3C118.2,114.3 118.9,113.2 119.6,112.1C120.3,111.0 121.1,109.0 121.8,107.7C122.5,106.4 123.3,105.3 124.0,104.1C124.7,102.9 125.5,101.8 126.2,100.5C126.9,99.2 127.7,97.6 128.4,96.1C129.1,94.6 129.8,93.2 130.5,91.7C131.2,90.2 132.0,88.5 132.7,87.4C133.4,86.3 134.0,85.5 134.6,84.9C135.2,84.3 135.8,84.1 136.4,84.0C137.0,83.9 137.6,83.8 138.1,84.5C138.6,85.2 138.8,87.4 139.3,88.1C139.8,88.8 140.5,87.9 141.0,88.4C141.5,88.9 141.9,90.0 142.5,91.0C143.1,92.0 143.7,93.4 144.4,94.6C145.1,95.8 145.9,97.1 146.5,98.3C147.1,99.5 147.3,101.2 148.0,101.9C148.7,102.6 150.1,102.0 150.9,102.6C151.8,103.2 152.4,104.4 153.1,105.5C153.8,106.6 154.6,107.9 155.3,109.2C156.0,110.5 156.8,112.0 157.5,113.5C158.2,115.0 158.9,118.1 159.6,118.3C160.3,118.5 161.2,115.5 161.8,114.6C162.4,113.7 162.7,113.3 163.3,113.1C163.9,112.9 164.6,113.9 165.2,113.5C165.8,113.1 166.4,111.6 166.9,110.6C167.4,109.6 167.9,108.3 168.4,107.7C168.9,107.1 169.3,107.5 169.8,107.0C170.3,106.5 170.8,105.8 171.3,104.8C171.8,103.8 172.3,102.1 172.7,101.2C173.1,100.3 173.4,99.5 173.9,99.4C174.4,99.4 174.9,100.2 175.6,100.9C176.2,101.6 177.1,102.4 177.8,103.4C178.5,104.4 179.3,105.8 180.0,107.0C180.7,108.2 181.5,109.5 182.2,110.6C182.9,111.7 183.7,112.5 184.4,113.5C185.1,114.5 185.7,116.5 186.3,116.5C186.9,116.5 187.4,114.3 188.0,113.5C188.6,112.7 189.3,111.7 189.9,111.4C190.5,111.1 191.0,111.5 191.6,111.7C192.2,111.9 192.8,112.5 193.4,112.5C194.0,112.5 194.7,112.1 195.3,111.4C195.9,110.7 196.6,108.7 197.2,108.2C197.8,107.8 198.3,108.7 198.9,108.7C199.5,108.8 200.1,108.3 200.7,108.5C201.3,108.7 201.9,110.0 202.5,109.6C203.1,109.2 203.7,107.3 204.4,106.3C205.1,105.3 205.8,103.5 206.5,103.4C207.2,103.3 207.7,105.0 208.4,105.8C209.1,106.6 209.8,107.6 210.5,108.2C211.2,108.8 212.0,109.0 212.7,109.2C213.4,109.4 214.2,109.4 214.9,109.6C215.6,109.8 216.4,110.3 217.1,110.6C217.8,110.8 218.6,111.2 219.3,111.1C220.0,111.0 220.8,110.3 221.5,109.9C222.2,109.5 222.9,109.0 223.6,108.5C224.3,108.0 225.1,106.9 225.8,106.7C226.5,106.5 227.1,107.3 228.0,107.3C228.9,107.3 230.4,106.0 231.5,106.5C232.6,107.0 233.7,109.7 234.7,110.5C235.7,111.3 236.7,112.0 237.6,111.3C238.5,110.6 239.5,108.4 240.2,106.5C240.9,104.6 241.4,101.7 242.0,100.0C242.6,98.3 242.8,97.3 243.5,96.6C244.2,95.8 245.4,95.5 246.3,95.5C247.2,95.5 248.1,96.7 249.0,96.6C249.9,96.5 250.6,95.2 251.5,95.0C252.4,94.8 253.5,95.8 254.4,95.5C255.3,95.2 256.3,94.4 257.2,93.4C258.1,92.4 259.0,90.1 259.8,89.7C260.6,89.3 261.2,91.3 262.0,91.2C262.8,91.1 263.7,89.7 264.6,89.0C265.5,88.3 266.6,87.9 267.5,86.8C268.4,85.7 269.2,83.9 270.0,82.2C270.8,80.5 271.4,78.3 272.0,76.4C272.6,74.5 273.3,72.2 273.9,70.7C274.5,69.2 275.2,68.4 275.8,67.5C276.4,66.6 277.1,65.3 277.7,65.2C278.3,65.1 279.0,66.4 279.6,66.9C280.2,67.5 281.0,68.6 281.6,68.5C282.2,68.4 282.9,67.3 283.5,66.2C284.1,65.1 284.8,62.9 285.4,61.7C286.0,60.5 286.6,59.5 287.0,59.2C287.4,58.9 287.6,59.0 288.0,60.0C288.4,61.0 288.9,63.4 289.3,65.0C289.7,66.6 290.1,68.2 290.5,69.5C290.9,70.8 291.4,72.0 291.8,72.7C292.2,73.4 292.6,72.6 293.1,73.9C293.6,75.2 294.5,78.0 295.0,80.3C295.5,82.6 295.8,85.4 296.3,88.0C296.9,90.6 297.6,93.4 298.3,95.7C299.1,98.0 300.0,100.2 300.8,102.1C301.6,104.0 302.6,105.8 303.4,107.2C304.1,108.6 304.7,109.8 305.3,110.5C305.9,111.2 306.6,111.2 307.2,111.1C307.8,111.0 308.6,109.6 309.2,109.8C309.8,110.0 310.1,111.2 310.5,112.4C310.9,113.6 311.2,115.7 311.7,116.9C312.2,118.1 313.0,119.2 313.7,119.4C314.4,119.6 315.0,118.1 315.6,118.2C316.2,118.3 316.9,119.5 317.5,120.1C318.1,120.7 318.4,121.0 319.2,121.8C319.9,122.6 321.1,124.0 322.0,125.0C322.9,126.0 323.9,127.2 324.8,128.0C325.7,128.8 326.6,129.6 327.5,129.5C328.4,129.4 329.1,127.3 330.0,127.3C330.9,127.3 332.1,128.2 333.0,129.5C333.9,130.8 334.8,134.3 335.7,135.0C336.6,135.7 337.6,134.2 338.4,133.8C339.2,133.4 339.7,132.3 340.5,132.7C341.3,133.1 342.3,134.7 343.2,136.0C344.1,137.3 345.1,139.4 346.0,140.4C346.9,141.4 347.9,142.1 348.8,142.0C349.7,141.9 350.5,139.4 351.5,139.7C352.5,140.0 353.7,143.1 354.7,143.6C355.7,144.1 356.7,142.9 357.6,142.5C358.5,142.1 359.3,140.8 360.2,141.0C361.1,141.2 361.9,142.3 362.8,143.6C363.7,144.9 364.7,147.5 365.6,149.0C366.6,150.5 367.6,151.7 368.5,152.4C369.4,153.2 370.0,152.5 371.0,153.5C372.0,154.5 373.5,158.4 374.4,158.5C375.3,158.6 375.7,154.8 376.5,154.0C377.3,153.2 378.5,153.8 379.4,153.5C380.3,153.2 381.1,152.8 382.0,152.4C382.9,152.0 383.7,151.1 384.6,151.3C385.5,151.5 386.6,152.5 387.5,153.5C388.4,154.5 389.4,156.1 390.3,157.2C391.2,158.3 392.0,159.3 393.0,160.0C394.0,160.7 395.1,161.3 396.2,161.5C397.3,161.7 398.4,161.0 399.5,161.0C400.6,161.0 401.6,161.3 402.7,161.5C403.8,161.7 404.9,162.4 406.0,162.2C407.1,161.9 408.3,160.2 409.3,160.0C410.3,159.8 411.1,160.0 412.0,160.7C412.9,161.4 413.7,163.4 414.7,164.4C415.7,165.4 416.9,165.7 418.0,166.5C419.1,167.3 420.2,168.3 421.3,169.4C422.4,170.5 423.4,171.9 424.5,173.0C425.6,174.1 426.9,175.4 427.8,176.0C428.7,176.6 429.1,176.5 430.0,176.4C430.9,176.3 432.2,176.0 433.3,175.3C434.4,174.7 435.4,172.9 436.5,172.5C437.6,172.1 438.7,173.1 439.8,173.0C440.9,172.9 441.7,172.2 443.0,172.0C444.3,171.8 446.0,172.2 447.5,172.0C449.0,171.8 450.7,170.9 451.8,171.0C452.9,171.1 453.6,171.8 454.4,172.5C455.2,173.2 455.8,175.1 456.6,175.3C457.5,175.5 458.5,173.8 459.5,173.8C460.5,173.8 461.6,174.9 462.7,175.3C463.8,175.7 464.9,176.0 466.0,176.4C467.1,176.8 468.2,176.7 469.3,177.5C470.4,178.3 471.5,180.0 472.5,181.2C473.5,182.4 474.5,183.9 475.4,184.7C476.3,185.5 477.1,185.6 478.0,186.2C478.9,186.8 479.7,187.8 480.6,188.4C481.5,189.0 482.5,189.9 483.5,190.0C484.5,190.1 485.6,189.3 486.7,189.0C487.8,188.7 488.9,188.2 490.0,188.4C491.1,188.6 492.2,189.7 493.3,190.0C494.4,190.3 495.4,190.3 496.5,190.5C497.6,190.7 498.8,191.7 499.8,191.2C500.8,190.7 501.6,188.9 502.4,187.3C503.2,185.7 503.9,183.6 504.6,181.8C505.3,180.1 506.1,177.7 506.8,176.8C507.5,175.9 508.3,176.0 509.0,176.4C509.7,176.8 510.4,177.9 511.2,179.0C512.0,180.1 513.0,181.9 514.0,183.0C515.0,184.1 516.3,184.4 517.3,185.5C518.3,186.6 519.2,188.1 520.0,189.5C520.8,190.9 521.4,192.9 522.0,193.8C522.6,194.7 522.7,194.1 523.4,195.0C524.1,195.9 525.0,198.0 526.0,199.4C527.0,200.8 528.2,202.4 529.3,203.7C530.4,205.0 531.6,206.3 532.5,207.0C533.4,207.7 534.0,207.9 534.7,207.7C535.5,207.5 536.6,206.3 537.0,206.0"/>
</g>
<g stroke="#585858" stroke-width="1" fill="none">
<rect x="67.5" y="10.5" width="477.0" height="376.3"/>
<path d="M106.5,386.8v-4.6M106.5,10.5v4.6M206.5,386.8v-4.6M206.5,10.5v4.6M306.5,386.8v-4.6M306.5,10.5v4.6M405.5,386.8v-4.6M405.5,10.5v4.6M505.5,386.8v-4.6M505.5,10.5v4.6M67.5,333.5h4.6M544.5,333.5h-4.6M67.5,279.5h4.6M544.5,279.5h-4.6M67.5,225.5h4.6M544.5,225.5h-4.6M67.5,171.5h4.6M544.5,171.5h-4.6M67.5,117.5h4.6M544.5,117.5h-4.6M67.5,63.5h4.6M544.5,63.5h-4.6"/>
</g>
<g class="t" text-anchor="middle">
<text x="106.9" y="408.0">3375</text>
<text x="206.6" y="408.0">3380</text>
<text x="306.3" y="408.0">3385</text>
<text x="406.0" y="408.0">3390</text>
<text x="505.7" y="408.0">3395</text>
</g>
<g class="t" text-anchor="end">
<text x="60.7" y="392.7">0</text>
<text x="60.7" y="338.3">0.005</text>
<text x="60.7" y="284.5">0.01</text>
<text x="60.7" y="230.7">0.015</text>
<text x="60.7" y="176.8">0.02</text>
<text x="60.7" y="123.0">0.025</text>
<text x="60.7" y="69.2">0.03</text>
<text x="60.7" y="15.4">0.035</text>
</g>
<text class="l" text-anchor="middle" x="305.7" y="429.6">Wavelength (nm)</text>
<text class="l" text-anchor="middle" transform="translate(15.2,199.6) rotate(-90)">Norm. PA signal (V)</text>
</svg>
</body></html>
